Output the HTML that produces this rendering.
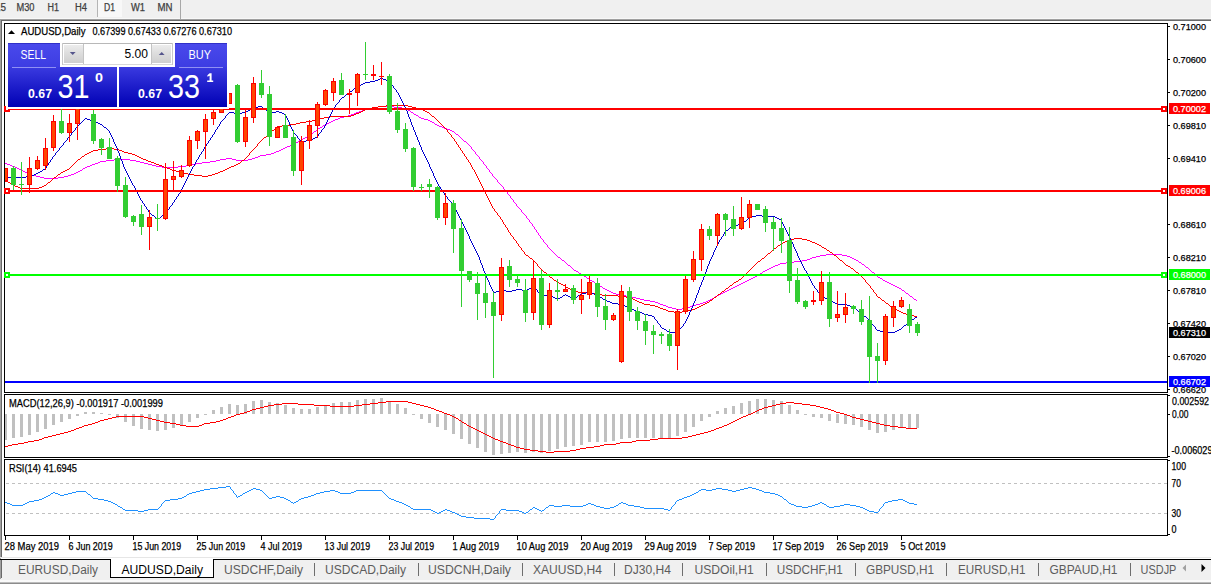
<!DOCTYPE html>
<html><head><meta charset="utf-8"><title>AUDUSD,Daily</title>
<style>html,body{margin:0;padding:0;background:#fff;overflow:hidden}body{width:1211px;height:584px;position:relative;font-family:"Liberation Sans",sans-serif}svg{position:absolute;left:0;top:0;display:block}text{font-family:"Liberation Sans",sans-serif}</style></head><body>
<svg width="1211" height="584" viewBox="0 0 1211 584" shape-rendering="crispEdges">
<defs><linearGradient id="gb" x1="0" y1="0" x2="0" y2="1"><stop offset="0" stop-color="#3a3ae0"/><stop offset="1" stop-color="#0000b4"/></linearGradient><linearGradient id="gt" x1="0" y1="0" x2="0" y2="1"><stop offset="0" stop-color="#4a4aec"/><stop offset="1" stop-color="#3c3ce2"/></linearGradient><linearGradient id="gbtn" x1="0" y1="0" x2="0" y2="1"><stop offset="0" stop-color="#ececec"/><stop offset="0.5" stop-color="#dcdcdc"/><stop offset="1" stop-color="#cfcfcf"/></linearGradient><clipPath id="cm"><rect x="5" y="24" width="1162" height="368"/></clipPath></defs>
<rect x="0" y="0" width="1211" height="584" fill="#fff"/>
<g id="toolbar">
<rect x="0" y="0" width="1211" height="18" fill="#f0f0f0"/>
<rect x="0" y="18" width="1211" height="1" fill="#f8f8f8"/>
<rect x="0" y="19" width="1211" height="1" fill="#a0a0a0"/>
<rect x="0" y="20" width="1211" height="1" fill="#696969"/>
<rect x="98" y="0" width="24" height="17" fill="#f8f8f8"/>
<rect x="97" y="0" width="1" height="17" fill="#b4b4b4"/>
<rect x="180" y="0" width="1" height="19" fill="#a8a8a8"/>
<text x="-5" y="11" font-size="10" fill="#404040" stroke="#404040" stroke-width="0.25" textLength="11" lengthAdjust="spacingAndGlyphs">15</text>
<text x="16.5" y="11" font-size="10" fill="#404040" stroke="#404040" stroke-width="0.25" textLength="18.0" lengthAdjust="spacingAndGlyphs">M30</text>
<text x="47.5" y="11" font-size="10" fill="#404040" stroke="#404040" stroke-width="0.25" textLength="11.5" lengthAdjust="spacingAndGlyphs">H1</text>
<text x="75" y="11" font-size="10" fill="#404040" stroke="#404040" stroke-width="0.25" textLength="12" lengthAdjust="spacingAndGlyphs">H4</text>
<text x="104" y="11" font-size="10" fill="#404040" stroke="#404040" stroke-width="0.25" textLength="11" lengthAdjust="spacingAndGlyphs">D1</text>
<text x="131" y="11" font-size="10" fill="#404040" stroke="#404040" stroke-width="0.25" textLength="14" lengthAdjust="spacingAndGlyphs">W1</text>
<text x="157.5" y="11" font-size="10" fill="#404040" stroke="#404040" stroke-width="0.25" textLength="15.0" lengthAdjust="spacingAndGlyphs">MN</text>
</g>
<rect x="0" y="19" width="1" height="540" fill="#a0a0a0"/>
<rect x="1" y="20" width="1" height="538" fill="#696969"/>
<rect x="4" y="23" width="1164" height="1" fill="#000"/>
<rect x="4" y="392" width="1164" height="1" fill="#000"/>
<rect x="4" y="23" width="1" height="370" fill="#000"/>
<rect x="1167" y="23" width="1" height="370" fill="#000"/>
<rect x="4" y="394" width="1164" height="1" fill="#000"/>
<rect x="4" y="457" width="1164" height="1" fill="#000"/>
<rect x="4" y="394" width="1" height="64" fill="#000"/>
<rect x="1167" y="394" width="1" height="64" fill="#000"/>
<rect x="4" y="459" width="1164" height="1" fill="#000"/>
<rect x="4" y="535" width="1164" height="1" fill="#000"/>
<rect x="4" y="459" width="1" height="77" fill="#000"/>
<rect x="1167" y="459" width="1" height="77" fill="#000"/>
<g id="main" clip-path="url(#cm)">
<path d="M378 106h16v1h-16zM372 107h6v1h-6zM394 107h8v1h-8zM368 108h4v1h-4zM402 108h4v1h-4zM364 109h4v1h-4zM406 109h2v1h-2zM362 110h2v1h-2zM408 110h2v1h-2zM359 111h3v1h-3zM410 111h1v1h-1zM356 112h3v1h-3zM411 112h2v1h-2zM354 113h2v1h-2zM413 113h1v1h-1zM351 114h3v1h-3zM414 114h2v1h-2zM348 115h3v1h-3zM416 115h2v1h-2zM344 116h4v1h-4zM418 116h1v1h-1zM340 117h4v1h-4zM419 117h2v1h-2zM338 118h2v1h-2zM421 118h3v1h-3zM335 119h3v1h-3zM424 119h4v1h-4zM333 120h2v1h-2zM428 120h2v1h-2zM331 121h2v1h-2zM430 121h2v1h-2zM329 122h2v1h-2zM432 122h2v1h-2zM327 123h2v1h-2zM434 123h1v1h-1zM325 124h2v1h-2zM435 124h2v1h-2zM323 125h2v1h-2zM437 125h2v1h-2zM322 126h1v1h-1zM439 126h3v1h-3zM320 127h2v1h-2zM442 127h2v1h-2zM318 128h2v1h-2zM444 128h3v1h-3zM317 129h1v1h-1zM447 129h3v1h-3zM316 130h1v1h-1zM450 130h2v1h-2zM314 131h2v1h-2zM452 131h2v1h-2zM313 132h1v1h-1zM454 132h1v1h-1zM312 133h1v1h-1zM455 133h1v1h-1zM310 134h2v1h-2zM456 134h2v1h-2zM309 135h1v1h-1zM458 135h1v1h-1zM307 136h2v1h-2zM459 136h1v1h-1zM305 137h2v1h-2zM460 137h1v1h-1zM303 138h2v1h-2zM461 138h1v1h-1zM301 139h2v1h-2zM462 139h1v1h-1zM299 140h2v1h-2zM463 140h1v1h-1zM298 141h1v1h-1zM464 141h2v1h-2zM296 142h2v1h-2zM466 142h1v1h-1zM294 143h2v1h-2zM467 143h1v1h-1zM292 144h2v1h-2zM468 144h1v1h-1zM290 145h2v1h-2zM469 145h1v1h-1zM287 146h3v1h-3zM470 146h1v1h-1zM285 147h2v1h-2zM471 147h1v1h-1zM283 148h2v1h-2zM471 148h1v1h-1zM281 149h2v1h-2zM472 149h1v1h-1zM279 150h2v1h-2zM473 150h1v1h-1zM276 151h3v1h-3zM474 151h1v1h-1zM274 152h2v1h-2zM475 152h1v1h-1zM271 153h3v1h-3zM475 153h1v1h-1zM266 154h5v1h-5zM476 154h1v1h-1zM260 155h6v1h-6zM477 155h1v1h-1zM258 156h2v1h-2zM478 156h1v1h-1zM255 157h3v1h-3zM479 157h1v1h-1zM226 158h6v1h-6zM252 158h3v1h-3zM479 158h1v1h-1zM114 159h16v1h-16zM220 159h6v1h-6zM232 159h4v1h-4zM248 159h4v1h-4zM480 159h1v1h-1zM106 160h8v1h-8zM130 160h6v1h-6zM216 160h4v1h-4zM236 160h12v1h-12zM481 160h1v1h-1zM100 161h6v1h-6zM136 161h4v1h-4zM210 161h6v1h-6zM482 161h1v1h-1zM98 162h2v1h-2zM140 162h4v1h-4zM202 162h8v1h-8zM483 162h1v1h-1zM5 163h2v1h-2zM95 163h3v1h-3zM144 163h4v1h-4zM196 163h6v1h-6zM483 163h1v1h-1zM7 164h3v1h-3zM92 164h3v1h-3zM148 164h4v1h-4zM192 164h4v1h-4zM484 164h1v1h-1zM10 165h2v1h-2zM90 165h2v1h-2zM152 165h4v1h-4zM186 165h6v1h-6zM485 165h1v1h-1zM12 166h3v1h-3zM87 166h3v1h-3zM156 166h6v1h-6zM178 166h8v1h-8zM486 166h1v1h-1zM15 167h2v1h-2zM85 167h2v1h-2zM162 167h16v1h-16zM486 167h1v1h-1zM17 168h2v1h-2zM83 168h2v1h-2zM487 168h1v1h-1zM19 169h2v1h-2zM82 169h1v1h-1zM488 169h1v1h-1zM21 170h2v1h-2zM80 170h2v1h-2zM489 170h1v1h-1zM23 171h2v1h-2zM78 171h2v1h-2zM489 171h1v1h-1zM25 172h2v1h-2zM76 172h2v1h-2zM490 172h1v1h-1zM27 173h2v1h-2zM74 173h2v1h-2zM491 173h1v1h-1zM29 174h3v1h-3zM71 174h3v1h-3zM492 174h1v1h-1zM32 175h4v1h-4zM68 175h3v1h-3zM492 175h1v1h-1zM36 176h4v1h-4zM64 176h4v1h-4zM493 176h1v1h-1zM40 177h4v1h-4zM58 177h6v1h-6zM494 177h1v1h-1zM44 178h14v1h-14zM495 178h1v1h-1zM496 179h1v1h-1zM497 180h1v1h-1zM497 181h1v1h-1zM498 182h1v1h-1zM499 183h1v1h-1zM500 184h1v1h-1zM501 185h1v1h-1zM502 186h1v1h-1zM503 187h1v1h-1zM503 188h1v1h-1zM504 189h1v1h-1zM505 190h1v1h-1zM506 191h1v1h-1zM507 192h1v1h-1zM507 193h1v1h-1zM508 194h1v1h-1zM509 195h1v1h-1zM510 196h1v1h-1zM510 197h1v1h-1zM511 198h1v1h-1zM512 199h1v1h-1zM513 200h1v1h-1zM513 201h1v1h-1zM514 202h1v1h-1zM515 203h1v1h-1zM516 204h1v1h-1zM516 205h1v1h-1zM517 206h1v1h-1zM518 207h1v1h-1zM519 208h1v1h-1zM520 209h1v1h-1zM521 210h1v1h-1zM521 211h1v1h-1zM522 212h1v1h-1zM523 213h1v1h-1zM524 214h1v1h-1zM525 215h1v1h-1zM526 216h1v1h-1zM526 217h1v1h-1zM527 218h1v1h-1zM528 219h1v1h-1zM529 220h1v1h-1zM529 221h1v1h-1zM530 222h1v1h-1zM531 223h1v1h-1zM532 224h1v1h-1zM532 225h1v1h-1zM533 226h1v1h-1zM534 227h1v1h-1zM534 228h1v1h-1zM535 229h1v1h-1zM536 230h1v1h-1zM536 231h1v1h-1zM537 232h1v1h-1zM538 233h1v1h-1zM538 234h1v1h-1zM539 235h1v1h-1zM540 236h1v1h-1zM540 237h1v1h-1zM541 238h1v1h-1zM542 239h1v1h-1zM543 240h1v1h-1zM543 241h1v1h-1zM544 242h1v1h-1zM545 243h1v1h-1zM546 244h1v1h-1zM547 245h1v1h-1zM547 246h1v1h-1zM548 247h1v1h-1zM549 248h1v1h-1zM550 249h1v1h-1zM551 250h1v1h-1zM552 251h1v1h-1zM553 252h1v1h-1zM554 253h1v1h-1zM555 254h1v1h-1zM826 254h16v1h-16zM556 255h1v1h-1zM820 255h6v1h-6zM842 255h5v1h-5zM557 256h1v1h-1zM816 256h4v1h-4zM847 256h3v1h-3zM558 257h2v1h-2zM812 257h4v1h-4zM850 257h2v1h-2zM560 258h1v1h-1zM810 258h2v1h-2zM852 258h2v1h-2zM561 259h1v1h-1zM807 259h3v1h-3zM854 259h2v1h-2zM562 260h2v1h-2zM802 260h5v1h-5zM856 260h2v1h-2zM564 261h1v1h-1zM794 261h8v1h-8zM858 261h1v1h-1zM565 262h1v1h-1zM786 262h8v1h-8zM859 262h2v1h-2zM566 263h1v1h-1zM780 263h6v1h-6zM861 263h1v1h-1zM567 264h1v1h-1zM778 264h2v1h-2zM862 264h2v1h-2zM568 265h2v1h-2zM775 265h3v1h-3zM864 265h1v1h-1zM570 266h1v1h-1zM773 266h2v1h-2zM865 266h1v1h-1zM571 267h1v1h-1zM771 267h2v1h-2zM866 267h2v1h-2zM572 268h1v1h-1zM769 268h2v1h-2zM868 268h1v1h-1zM573 269h1v1h-1zM767 269h2v1h-2zM869 269h1v1h-1zM574 270h2v1h-2zM765 270h2v1h-2zM870 270h1v1h-1zM576 271h2v1h-2zM763 271h2v1h-2zM871 271h1v1h-1zM578 272h1v1h-1zM762 272h1v1h-1zM872 272h2v1h-2zM579 273h2v1h-2zM760 273h2v1h-2zM874 273h1v1h-1zM581 274h1v1h-1zM758 274h2v1h-2zM875 274h1v1h-1zM582 275h2v1h-2zM757 275h1v1h-1zM876 275h1v1h-1zM584 276h2v1h-2zM755 276h2v1h-2zM877 276h1v1h-1zM586 277h1v1h-1zM753 277h2v1h-2zM878 277h2v1h-2zM587 278h2v1h-2zM751 278h2v1h-2zM880 278h2v1h-2zM589 279h1v1h-1zM749 279h2v1h-2zM882 279h1v1h-1zM590 280h2v1h-2zM747 280h2v1h-2zM883 280h2v1h-2zM592 281h2v1h-2zM745 281h2v1h-2zM885 281h2v1h-2zM594 282h1v1h-1zM743 282h2v1h-2zM887 282h2v1h-2zM595 283h2v1h-2zM741 283h2v1h-2zM889 283h2v1h-2zM597 284h1v1h-1zM739 284h2v1h-2zM891 284h2v1h-2zM598 285h2v1h-2zM737 285h2v1h-2zM893 285h2v1h-2zM600 286h2v1h-2zM735 286h2v1h-2zM895 286h2v1h-2zM602 287h1v1h-1zM733 287h2v1h-2zM897 287h2v1h-2zM603 288h2v1h-2zM731 288h2v1h-2zM899 288h2v1h-2zM605 289h2v1h-2zM729 289h2v1h-2zM901 289h1v1h-1zM607 290h2v1h-2zM727 290h2v1h-2zM902 290h2v1h-2zM609 291h2v1h-2zM725 291h2v1h-2zM904 291h1v1h-1zM611 292h2v1h-2zM723 292h2v1h-2zM905 292h1v1h-1zM613 293h3v1h-3zM721 293h2v1h-2zM906 293h2v1h-2zM616 294h4v1h-4zM719 294h2v1h-2zM908 294h1v1h-1zM620 295h6v1h-6zM717 295h2v1h-2zM909 295h1v1h-1zM626 296h6v1h-6zM715 296h2v1h-2zM910 296h2v1h-2zM632 297h4v1h-4zM714 297h1v1h-1zM912 297h1v1h-1zM636 298h4v1h-4zM712 298h2v1h-2zM913 298h1v1h-1zM640 299h4v1h-4zM710 299h2v1h-2zM914 299h2v1h-2zM644 300h6v1h-6zM708 300h2v1h-2zM916 300h1v1h-1zM650 301h5v1h-5zM706 301h2v1h-2zM655 302h3v1h-3zM703 302h3v1h-3zM658 303h2v1h-2zM700 303h3v1h-3zM660 304h3v1h-3zM696 304h4v1h-4zM663 305h3v1h-3zM692 305h4v1h-4zM666 306h2v1h-2zM690 306h2v1h-2zM668 307h4v1h-4zM687 307h3v1h-3zM672 308h4v1h-4zM682 308h5v1h-5zM676 309h6v1h-6z" fill="#ff00ff"/>
<path d="M386 105h22v1h-22zM378 106h8v1h-8zM408 106h4v1h-4zM372 107h6v1h-6zM412 107h4v1h-4zM368 108h4v1h-4zM416 108h4v1h-4zM365 109h3v1h-3zM420 109h3v1h-3zM363 110h2v1h-2zM423 110h2v1h-2zM361 111h2v1h-2zM425 111h2v1h-2zM359 112h2v1h-2zM427 112h2v1h-2zM356 113h3v1h-3zM429 113h1v1h-1zM354 114h2v1h-2zM430 114h1v1h-1zM351 115h3v1h-3zM431 115h1v1h-1zM330 116h21v1h-21zM432 116h2v1h-2zM324 117h6v1h-6zM434 117h1v1h-1zM320 118h4v1h-4zM435 118h1v1h-1zM316 119h4v1h-4zM436 119h1v1h-1zM312 120h4v1h-4zM437 120h1v1h-1zM306 121h6v1h-6zM438 121h1v1h-1zM300 122h6v1h-6zM439 122h1v1h-1zM296 123h4v1h-4zM440 123h1v1h-1zM290 124h6v1h-6zM441 124h1v1h-1zM282 125h8v1h-8zM442 125h1v1h-1zM277 126h5v1h-5zM443 126h1v1h-1zM276 127h1v1h-1zM444 127h1v1h-1zM275 128h1v1h-1zM445 128h1v1h-1zM274 129h1v1h-1zM446 129h1v1h-1zM272 130h2v1h-2zM447 130h1v1h-1zM271 131h1v1h-1zM447 131h1v1h-1zM270 132h1v1h-1zM448 132h1v1h-1zM269 133h1v1h-1zM449 133h1v1h-1zM268 134h1v1h-1zM450 134h1v1h-1zM267 135h1v1h-1zM451 135h1v1h-1zM266 136h1v1h-1zM451 136h1v1h-1zM264 137h2v1h-2zM452 137h1v1h-1zM263 138h1v1h-1zM453 138h1v1h-1zM262 139h1v1h-1zM454 139h1v1h-1zM261 140h1v1h-1zM454 140h1v1h-1zM260 141h1v1h-1zM455 141h1v1h-1zM259 142h1v1h-1zM456 142h1v1h-1zM258 143h1v1h-1zM456 143h1v1h-1zM257 144h1v1h-1zM457 144h1v1h-1zM257 145h1v1h-1zM458 145h1v1h-1zM256 146h1v1h-1zM458 146h1v1h-1zM255 147h1v1h-1zM459 147h1v1h-1zM106 148h8v1h-8zM254 148h1v1h-1zM460 148h1v1h-1zM98 149h8v1h-8zM114 149h5v1h-5zM253 149h1v1h-1zM460 149h1v1h-1zM93 150h5v1h-5zM119 150h3v1h-3zM252 150h1v1h-1zM461 150h1v1h-1zM91 151h2v1h-2zM122 151h2v1h-2zM251 151h1v1h-1zM462 151h1v1h-1zM89 152h2v1h-2zM124 152h4v1h-4zM250 152h1v1h-1zM462 152h1v1h-1zM87 153h2v1h-2zM128 153h4v1h-4zM249 153h1v1h-1zM463 153h1v1h-1zM85 154h2v1h-2zM132 154h3v1h-3zM249 154h1v1h-1zM464 154h1v1h-1zM84 155h1v1h-1zM135 155h2v1h-2zM248 155h1v1h-1zM464 155h1v1h-1zM82 156h2v1h-2zM137 156h2v1h-2zM247 156h1v1h-1zM465 156h1v1h-1zM81 157h1v1h-1zM139 157h2v1h-2zM246 157h1v1h-1zM466 157h1v1h-1zM80 158h1v1h-1zM141 158h2v1h-2zM245 158h1v1h-1zM466 158h1v1h-1zM78 159h2v1h-2zM143 159h3v1h-3zM244 159h1v1h-1zM467 159h1v1h-1zM77 160h1v1h-1zM146 160h2v1h-2zM242 160h2v1h-2zM468 160h1v1h-1zM76 161h1v1h-1zM148 161h3v1h-3zM241 161h1v1h-1zM468 161h1v1h-1zM75 162h1v1h-1zM151 162h3v1h-3zM240 162h1v1h-1zM469 162h1v1h-1zM74 163h1v1h-1zM154 163h2v1h-2zM238 163h2v1h-2zM470 163h1v1h-1zM73 164h1v1h-1zM156 164h3v1h-3zM236 164h2v1h-2zM470 164h1v1h-1zM72 165h1v1h-1zM159 165h3v1h-3zM234 165h2v1h-2zM471 165h1v1h-1zM71 166h1v1h-1zM162 166h2v1h-2zM231 166h3v1h-3zM471 166h1v1h-1zM70 167h1v1h-1zM164 167h3v1h-3zM229 167h2v1h-2zM472 167h1v1h-1zM69 168h1v1h-1zM167 168h3v1h-3zM227 168h2v1h-2zM472 168h1v1h-1zM67 169h2v1h-2zM170 169h2v1h-2zM225 169h2v1h-2zM473 169h1v1h-1zM65 170h2v1h-2zM172 170h4v1h-4zM223 170h2v1h-2zM474 170h1v1h-1zM63 171h2v1h-2zM176 171h4v1h-4zM220 171h3v1h-3zM474 171h1v1h-1zM61 172h2v1h-2zM180 172h4v1h-4zM218 172h2v1h-2zM475 172h1v1h-1zM60 173h1v1h-1zM184 173h4v1h-4zM215 173h3v1h-3zM475 173h1v1h-1zM58 174h2v1h-2zM188 174h6v1h-6zM212 174h3v1h-3zM476 174h1v1h-1zM57 175h1v1h-1zM194 175h8v1h-8zM208 175h4v1h-4zM476 175h1v1h-1zM56 176h1v1h-1zM202 176h6v1h-6zM477 176h1v1h-1zM54 177h2v1h-2zM477 177h1v1h-1zM53 178h1v1h-1zM478 178h1v1h-1zM52 179h1v1h-1zM478 179h1v1h-1zM5 180h1v1h-1zM51 180h1v1h-1zM479 180h1v1h-1zM6 181h2v1h-2zM50 181h1v1h-1zM479 181h1v1h-1zM8 182h2v1h-2zM48 182h2v1h-2zM480 182h1v1h-1zM10 183h1v1h-1zM47 183h1v1h-1zM480 183h1v1h-1zM11 184h2v1h-2zM46 184h1v1h-1zM481 184h1v1h-1zM13 185h2v1h-2zM44 185h2v1h-2zM481 185h1v1h-1zM15 186h3v1h-3zM42 186h2v1h-2zM482 186h1v1h-1zM18 187h2v1h-2zM39 187h3v1h-3zM482 187h1v1h-1zM20 188h19v1h-19zM483 188h1v1h-1zM483 189h1v1h-1zM484 190h1v1h-1zM484 191h1v1h-1zM485 192h1v1h-1zM485 193h1v1h-1zM486 194h1v1h-1zM486 195h1v1h-1zM487 196h1v1h-1zM487 197h1v1h-1zM488 198h1v1h-1zM488 199h1v1h-1zM489 200h1v1h-1zM489 201h1v1h-1zM490 202h1v1h-1zM490 203h1v1h-1zM491 204h1v1h-1zM491 205h1v1h-1zM492 206h1v1h-1zM492 207h1v1h-1zM493 208h1v1h-1zM494 209h1v1h-1zM494 210h1v1h-1zM495 211h1v1h-1zM496 212h1v1h-1zM497 213h1v1h-1zM497 214h1v1h-1zM498 215h1v1h-1zM499 216h1v1h-1zM500 217h1v1h-1zM500 218h1v1h-1zM501 219h1v1h-1zM502 220h1v1h-1zM502 221h1v1h-1zM503 222h1v1h-1zM503 223h1v1h-1zM504 224h1v1h-1zM505 225h1v1h-1zM505 226h1v1h-1zM506 227h1v1h-1zM507 228h1v1h-1zM507 229h1v1h-1zM508 230h1v1h-1zM508 231h1v1h-1zM509 232h1v1h-1zM510 233h1v1h-1zM510 234h1v1h-1zM511 235h1v1h-1zM512 236h1v1h-1zM513 237h1v1h-1zM513 238h1v1h-1zM794 238h8v1h-8zM514 239h1v1h-1zM789 239h5v1h-5zM802 239h5v1h-5zM515 240h1v1h-1zM787 240h2v1h-2zM807 240h3v1h-3zM516 241h1v1h-1zM785 241h2v1h-2zM810 241h2v1h-2zM516 242h1v1h-1zM783 242h2v1h-2zM812 242h3v1h-3zM517 243h1v1h-1zM781 243h2v1h-2zM815 243h2v1h-2zM518 244h1v1h-1zM780 244h1v1h-1zM817 244h2v1h-2zM518 245h1v1h-1zM778 245h2v1h-2zM819 245h2v1h-2zM519 246h1v1h-1zM777 246h1v1h-1zM821 246h1v1h-1zM520 247h1v1h-1zM776 247h1v1h-1zM822 247h2v1h-2zM521 248h1v1h-1zM774 248h2v1h-2zM824 248h2v1h-2zM521 249h1v1h-1zM773 249h1v1h-1zM826 249h1v1h-1zM522 250h1v1h-1zM772 250h1v1h-1zM827 250h2v1h-2zM523 251h1v1h-1zM771 251h1v1h-1zM829 251h1v1h-1zM524 252h1v1h-1zM770 252h1v1h-1zM830 252h2v1h-2zM524 253h1v1h-1zM768 253h2v1h-2zM832 253h1v1h-1zM525 254h1v1h-1zM767 254h1v1h-1zM833 254h1v1h-1zM526 255h2v1h-2zM766 255h1v1h-1zM834 255h2v1h-2zM528 256h1v1h-1zM765 256h1v1h-1zM836 256h1v1h-1zM529 257h1v1h-1zM764 257h1v1h-1zM837 257h1v1h-1zM530 258h2v1h-2zM762 258h2v1h-2zM838 258h1v1h-1zM532 259h1v1h-1zM761 259h1v1h-1zM839 259h1v1h-1zM533 260h1v1h-1zM760 260h1v1h-1zM840 260h2v1h-2zM534 261h1v1h-1zM758 261h2v1h-2zM842 261h1v1h-1zM535 262h1v1h-1zM757 262h1v1h-1zM843 262h1v1h-1zM536 263h1v1h-1zM756 263h1v1h-1zM844 263h1v1h-1zM537 264h1v1h-1zM755 264h1v1h-1zM845 264h1v1h-1zM537 265h1v1h-1zM754 265h1v1h-1zM846 265h2v1h-2zM538 266h1v1h-1zM753 266h1v1h-1zM848 266h2v1h-2zM539 267h1v1h-1zM752 267h1v1h-1zM850 267h1v1h-1zM540 268h1v1h-1zM751 268h1v1h-1zM851 268h2v1h-2zM541 269h1v1h-1zM750 269h1v1h-1zM853 269h1v1h-1zM542 270h1v1h-1zM749 270h1v1h-1zM854 270h1v1h-1zM543 271h1v1h-1zM748 271h1v1h-1zM855 271h1v1h-1zM544 272h2v1h-2zM747 272h1v1h-1zM856 272h2v1h-2zM546 273h1v1h-1zM746 273h1v1h-1zM858 273h1v1h-1zM547 274h1v1h-1zM745 274h1v1h-1zM859 274h1v1h-1zM548 275h1v1h-1zM744 275h1v1h-1zM860 275h1v1h-1zM549 276h1v1h-1zM743 276h1v1h-1zM861 276h1v1h-1zM550 277h2v1h-2zM742 277h1v1h-1zM862 277h1v1h-1zM552 278h1v1h-1zM741 278h1v1h-1zM863 278h1v1h-1zM553 279h1v1h-1zM739 279h2v1h-2zM864 279h1v1h-1zM554 280h2v1h-2zM738 280h1v1h-1zM865 280h1v1h-1zM556 281h1v1h-1zM736 281h2v1h-2zM865 281h1v1h-1zM557 282h2v1h-2zM734 282h2v1h-2zM866 282h1v1h-1zM559 283h2v1h-2zM733 283h1v1h-1zM867 283h1v1h-1zM561 284h2v1h-2zM732 284h1v1h-1zM868 284h1v1h-1zM563 285h2v1h-2zM730 285h2v1h-2zM869 285h1v1h-1zM565 286h1v1h-1zM729 286h1v1h-1zM870 286h1v1h-1zM566 287h2v1h-2zM728 287h1v1h-1zM870 287h1v1h-1zM568 288h2v1h-2zM726 288h2v1h-2zM871 288h1v1h-1zM570 289h1v1h-1zM725 289h1v1h-1zM872 289h1v1h-1zM571 290h2v1h-2zM724 290h1v1h-1zM873 290h1v1h-1zM573 291h5v1h-5zM722 291h2v1h-2zM873 291h1v1h-1zM578 292h14v1h-14zM721 292h1v1h-1zM874 292h1v1h-1zM592 293h4v1h-4zM720 293h1v1h-1zM875 293h1v1h-1zM596 294h6v1h-6zM718 294h2v1h-2zM876 294h1v1h-1zM602 295h16v1h-16zM717 295h1v1h-1zM876 295h1v1h-1zM618 296h8v1h-8zM716 296h1v1h-1zM877 296h1v1h-1zM626 297h5v1h-5zM714 297h2v1h-2zM878 297h2v1h-2zM631 298h2v1h-2zM713 298h1v1h-1zM880 298h1v1h-1zM633 299h2v1h-2zM712 299h1v1h-1zM881 299h1v1h-1zM635 300h2v1h-2zM710 300h2v1h-2zM882 300h2v1h-2zM637 301h2v1h-2zM709 301h1v1h-1zM884 301h1v1h-1zM639 302h3v1h-3zM707 302h2v1h-2zM885 302h1v1h-1zM642 303h2v1h-2zM705 303h2v1h-2zM886 303h2v1h-2zM644 304h6v1h-6zM703 304h2v1h-2zM888 304h1v1h-1zM650 305h5v1h-5zM701 305h2v1h-2zM889 305h1v1h-1zM655 306h3v1h-3zM699 306h2v1h-2zM890 306h2v1h-2zM658 307h2v1h-2zM697 307h2v1h-2zM892 307h1v1h-1zM660 308h3v1h-3zM695 308h2v1h-2zM893 308h2v1h-2zM663 309h3v1h-3zM692 309h3v1h-3zM895 309h2v1h-2zM666 310h2v1h-2zM688 310h4v1h-4zM897 310h2v1h-2zM668 311h6v1h-6zM682 311h6v1h-6zM899 311h2v1h-2zM674 312h8v1h-8zM901 312h2v1h-2zM903 313h3v1h-3zM906 314h2v1h-2zM908 315h6v1h-6zM914 316h3v1h-3z" fill="#ff0000"/>
<path d="M380 78h3v1h-3zM378 79h2v1h-2zM383 79h3v1h-3zM375 80h3v1h-3zM386 80h2v1h-2zM370 81h5v1h-5zM388 81h2v1h-2zM365 82h5v1h-5zM390 82h1v1h-1zM363 83h2v1h-2zM390 83h1v1h-1zM361 84h2v1h-2zM391 84h1v1h-1zM359 85h2v1h-2zM392 85h1v1h-1zM357 86h2v1h-2zM393 86h1v1h-1zM356 87h1v1h-1zM393 87h1v1h-1zM354 88h2v1h-2zM394 88h1v1h-1zM353 89h1v1h-1zM395 89h1v1h-1zM352 90h1v1h-1zM396 90h1v1h-1zM350 91h2v1h-2zM396 91h1v1h-1zM349 92h1v1h-1zM397 92h1v1h-1zM348 93h1v1h-1zM398 93h1v1h-1zM346 94h2v1h-2zM398 94h1v1h-1zM345 95h1v1h-1zM399 95h1v1h-1zM344 96h1v1h-1zM399 96h1v1h-1zM342 97h2v1h-2zM400 97h1v1h-1zM341 98h1v1h-1zM400 98h1v1h-1zM340 99h1v1h-1zM401 99h1v1h-1zM339 100h1v1h-1zM401 100h1v1h-1zM339 101h1v1h-1zM402 101h1v1h-1zM338 102h1v1h-1zM402 102h1v1h-1zM337 103h1v1h-1zM403 103h1v1h-1zM336 104h1v1h-1zM403 104h1v1h-1zM335 105h1v1h-1zM404 105h1v1h-1zM258 106h4v1h-4zM335 106h1v1h-1zM404 106h1v1h-1zM253 107h5v1h-5zM262 107h1v1h-1zM334 107h1v1h-1zM405 107h1v1h-1zM251 108h2v1h-2zM263 108h1v1h-1zM333 108h1v1h-1zM405 108h1v1h-1zM250 109h1v1h-1zM264 109h2v1h-2zM333 109h1v1h-1zM406 109h1v1h-1zM248 110h2v1h-2zM266 110h1v1h-1zM332 110h1v1h-1zM406 110h1v1h-1zM246 111h2v1h-2zM267 111h1v1h-1zM276 111h3v1h-3zM332 111h1v1h-1zM407 111h1v1h-1zM229 112h5v1h-5zM242 112h4v1h-4zM268 112h1v1h-1zM272 112h4v1h-4zM279 112h3v1h-3zM331 112h1v1h-1zM407 112h1v1h-1zM228 113h1v1h-1zM234 113h8v1h-8zM269 113h3v1h-3zM282 113h2v1h-2zM331 113h1v1h-1zM407 113h1v1h-1zM227 114h1v1h-1zM284 114h2v1h-2zM330 114h1v1h-1zM408 114h1v1h-1zM226 115h1v1h-1zM285 115h1v1h-1zM330 115h1v1h-1zM408 115h1v1h-1zM225 116h1v1h-1zM286 116h1v1h-1zM329 116h1v1h-1zM408 116h1v1h-1zM225 117h1v1h-1zM286 117h1v1h-1zM329 117h1v1h-1zM409 117h1v1h-1zM85 118h2v1h-2zM224 118h1v1h-1zM287 118h1v1h-1zM328 118h1v1h-1zM409 118h1v1h-1zM84 119h1v1h-1zM87 119h3v1h-3zM223 119h1v1h-1zM287 119h1v1h-1zM328 119h1v1h-1zM410 119h1v1h-1zM83 120h1v1h-1zM90 120h2v1h-2zM222 120h1v1h-1zM288 120h1v1h-1zM327 120h1v1h-1zM410 120h1v1h-1zM82 121h1v1h-1zM92 121h3v1h-3zM221 121h1v1h-1zM288 121h1v1h-1zM327 121h1v1h-1zM410 121h1v1h-1zM81 122h1v1h-1zM95 122h3v1h-3zM220 122h1v1h-1zM289 122h1v1h-1zM326 122h1v1h-1zM411 122h1v1h-1zM80 123h1v1h-1zM98 123h2v1h-2zM220 123h1v1h-1zM289 123h1v1h-1zM326 123h1v1h-1zM411 123h1v1h-1zM79 124h1v1h-1zM100 124h2v1h-2zM219 124h1v1h-1zM289 124h1v1h-1zM325 124h1v1h-1zM411 124h1v1h-1zM78 125h1v1h-1zM102 125h1v1h-1zM219 125h1v1h-1zM290 125h1v1h-1zM325 125h1v1h-1zM412 125h1v1h-1zM77 126h1v1h-1zM103 126h1v1h-1zM218 126h1v1h-1zM290 126h1v1h-1zM324 126h1v1h-1zM412 126h1v1h-1zM76 127h1v1h-1zM104 127h2v1h-2zM217 127h1v1h-1zM291 127h1v1h-1zM324 127h1v1h-1zM413 127h1v1h-1zM75 128h1v1h-1zM106 128h1v1h-1zM217 128h1v1h-1zM291 128h1v1h-1zM323 128h1v1h-1zM413 128h1v1h-1zM75 129h1v1h-1zM107 129h1v1h-1zM216 129h1v1h-1zM292 129h1v1h-1zM322 129h1v1h-1zM413 129h1v1h-1zM74 130h1v1h-1zM108 130h1v1h-1zM215 130h1v1h-1zM292 130h1v1h-1zM321 130h1v1h-1zM414 130h1v1h-1zM73 131h1v1h-1zM109 131h1v1h-1zM215 131h1v1h-1zM293 131h1v1h-1zM321 131h1v1h-1zM414 131h1v1h-1zM72 132h1v1h-1zM109 132h1v1h-1zM214 132h1v1h-1zM293 132h1v1h-1zM320 132h1v1h-1zM415 132h1v1h-1zM71 133h1v1h-1zM110 133h1v1h-1zM214 133h1v1h-1zM294 133h1v1h-1zM319 133h1v1h-1zM415 133h1v1h-1zM71 134h1v1h-1zM110 134h1v1h-1zM213 134h1v1h-1zM295 134h1v1h-1zM318 134h1v1h-1zM415 134h1v1h-1zM70 135h1v1h-1zM111 135h1v1h-1zM212 135h1v1h-1zM296 135h1v1h-1zM318 135h1v1h-1zM416 135h1v1h-1zM69 136h1v1h-1zM111 136h1v1h-1zM212 136h1v1h-1zM297 136h1v1h-1zM317 136h1v1h-1zM416 136h1v1h-1zM68 137h1v1h-1zM112 137h1v1h-1zM211 137h1v1h-1zM297 137h1v1h-1zM315 137h2v1h-2zM417 137h1v1h-1zM67 138h1v1h-1zM112 138h1v1h-1zM210 138h1v1h-1zM298 138h1v1h-1zM313 138h2v1h-2zM417 138h1v1h-1zM67 139h1v1h-1zM113 139h1v1h-1zM210 139h1v1h-1zM299 139h1v1h-1zM311 139h2v1h-2zM417 139h1v1h-1zM66 140h1v1h-1zM113 140h1v1h-1zM209 140h1v1h-1zM300 140h1v1h-1zM306 140h5v1h-5zM418 140h1v1h-1zM65 141h1v1h-1zM113 141h1v1h-1zM208 141h1v1h-1zM301 141h5v1h-5zM418 141h1v1h-1zM64 142h1v1h-1zM114 142h1v1h-1zM208 142h1v1h-1zM419 142h1v1h-1zM63 143h1v1h-1zM114 143h1v1h-1zM207 143h1v1h-1zM419 143h1v1h-1zM63 144h1v1h-1zM115 144h1v1h-1zM206 144h1v1h-1zM419 144h1v1h-1zM62 145h1v1h-1zM115 145h1v1h-1zM206 145h1v1h-1zM420 145h1v1h-1zM61 146h1v1h-1zM116 146h1v1h-1zM205 146h1v1h-1zM420 146h1v1h-1zM60 147h1v1h-1zM116 147h1v1h-1zM204 147h1v1h-1zM421 147h1v1h-1zM59 148h1v1h-1zM117 148h1v1h-1zM204 148h1v1h-1zM421 148h1v1h-1zM59 149h1v1h-1zM117 149h1v1h-1zM203 149h1v1h-1zM421 149h1v1h-1zM58 150h1v1h-1zM117 150h1v1h-1zM203 150h1v1h-1zM422 150h1v1h-1zM57 151h1v1h-1zM118 151h1v1h-1zM202 151h1v1h-1zM422 151h1v1h-1zM56 152h1v1h-1zM118 152h1v1h-1zM201 152h1v1h-1zM423 152h1v1h-1zM55 153h1v1h-1zM119 153h1v1h-1zM201 153h1v1h-1zM423 153h1v1h-1zM55 154h1v1h-1zM119 154h1v1h-1zM200 154h1v1h-1zM424 154h1v1h-1zM54 155h1v1h-1zM119 155h1v1h-1zM199 155h1v1h-1zM424 155h1v1h-1zM53 156h1v1h-1zM120 156h1v1h-1zM199 156h1v1h-1zM425 156h1v1h-1zM52 157h1v1h-1zM120 157h1v1h-1zM198 157h1v1h-1zM425 157h1v1h-1zM52 158h1v1h-1zM120 158h1v1h-1zM198 158h1v1h-1zM426 158h1v1h-1zM51 159h1v1h-1zM121 159h1v1h-1zM197 159h1v1h-1zM426 159h1v1h-1zM50 160h1v1h-1zM121 160h1v1h-1zM196 160h1v1h-1zM427 160h1v1h-1zM50 161h1v1h-1zM122 161h1v1h-1zM196 161h1v1h-1zM427 161h1v1h-1zM49 162h1v1h-1zM122 162h1v1h-1zM195 162h1v1h-1zM428 162h1v1h-1zM48 163h1v1h-1zM122 163h1v1h-1zM195 163h1v1h-1zM428 163h1v1h-1zM48 164h1v1h-1zM123 164h1v1h-1zM194 164h1v1h-1zM429 164h1v1h-1zM47 165h1v1h-1zM123 165h1v1h-1zM194 165h1v1h-1zM429 165h1v1h-1zM46 166h1v1h-1zM123 166h1v1h-1zM193 166h1v1h-1zM429 166h1v1h-1zM46 167h1v1h-1zM124 167h1v1h-1zM192 167h1v1h-1zM430 167h1v1h-1zM45 168h1v1h-1zM124 168h1v1h-1zM192 168h1v1h-1zM430 168h1v1h-1zM43 169h2v1h-2zM125 169h1v1h-1zM191 169h1v1h-1zM431 169h1v1h-1zM42 170h1v1h-1zM125 170h1v1h-1zM191 170h1v1h-1zM431 170h1v1h-1zM40 171h2v1h-2zM126 171h1v1h-1zM190 171h1v1h-1zM432 171h1v1h-1zM38 172h2v1h-2zM126 172h1v1h-1zM190 172h1v1h-1zM432 172h1v1h-1zM36 173h2v1h-2zM127 173h1v1h-1zM189 173h1v1h-1zM433 173h1v1h-1zM34 174h2v1h-2zM127 174h1v1h-1zM189 174h1v1h-1zM433 174h1v1h-1zM31 175h3v1h-3zM128 175h1v1h-1zM188 175h1v1h-1zM433 175h1v1h-1zM26 176h5v1h-5zM128 176h1v1h-1zM188 176h1v1h-1zM434 176h1v1h-1zM5 177h21v1h-21zM129 177h1v1h-1zM187 177h1v1h-1zM434 177h1v1h-1zM129 178h1v1h-1zM187 178h1v1h-1zM435 178h1v1h-1zM130 179h1v1h-1zM186 179h1v1h-1zM435 179h1v1h-1zM130 180h1v1h-1zM186 180h1v1h-1zM436 180h1v1h-1zM131 181h1v1h-1zM185 181h1v1h-1zM436 181h1v1h-1zM131 182h1v1h-1zM185 182h1v1h-1zM437 182h1v1h-1zM132 183h1v1h-1zM184 183h1v1h-1zM437 183h1v1h-1zM132 184h1v1h-1zM184 184h1v1h-1zM438 184h1v1h-1zM133 185h1v1h-1zM183 185h1v1h-1zM438 185h1v1h-1zM134 186h1v1h-1zM183 186h1v1h-1zM439 186h1v1h-1zM134 187h1v1h-1zM182 187h1v1h-1zM440 187h1v1h-1zM135 188h1v1h-1zM182 188h1v1h-1zM440 188h1v1h-1zM135 189h1v1h-1zM181 189h1v1h-1zM441 189h1v1h-1zM136 190h1v1h-1zM181 190h1v1h-1zM442 190h1v1h-1zM136 191h1v1h-1zM180 191h1v1h-1zM442 191h1v1h-1zM137 192h1v1h-1zM180 192h1v1h-1zM443 192h1v1h-1zM137 193h1v1h-1zM179 193h1v1h-1zM444 193h1v1h-1zM138 194h1v1h-1zM178 194h1v1h-1zM444 194h1v1h-1zM138 195h1v1h-1zM178 195h1v1h-1zM445 195h1v1h-1zM139 196h1v1h-1zM177 196h1v1h-1zM446 196h1v1h-1zM139 197h1v1h-1zM176 197h1v1h-1zM447 197h1v1h-1zM140 198h1v1h-1zM176 198h1v1h-1zM447 198h1v1h-1zM140 199h1v1h-1zM175 199h1v1h-1zM448 199h1v1h-1zM141 200h1v1h-1zM174 200h1v1h-1zM449 200h1v1h-1zM142 201h1v1h-1zM174 201h1v1h-1zM450 201h1v1h-1zM142 202h1v1h-1zM173 202h1v1h-1zM451 202h1v1h-1zM143 203h1v1h-1zM172 203h1v1h-1zM451 203h1v1h-1zM144 204h1v1h-1zM172 204h1v1h-1zM452 204h1v1h-1zM144 205h1v1h-1zM171 205h1v1h-1zM453 205h1v1h-1zM145 206h1v1h-1zM170 206h1v1h-1zM454 206h1v1h-1zM146 207h1v1h-1zM169 207h1v1h-1zM454 207h1v1h-1zM146 208h1v1h-1zM169 208h1v1h-1zM455 208h1v1h-1zM147 209h1v1h-1zM168 209h1v1h-1zM455 209h1v1h-1zM148 210h1v1h-1zM167 210h1v1h-1zM456 210h1v1h-1zM148 211h1v1h-1zM166 211h1v1h-1zM456 211h1v1h-1zM149 212h1v1h-1zM166 212h1v1h-1zM457 212h1v1h-1zM150 213h1v1h-1zM165 213h1v1h-1zM457 213h1v1h-1zM151 214h1v1h-1zM164 214h1v1h-1zM458 214h1v1h-1zM152 215h2v1h-2zM162 215h2v1h-2zM458 215h1v1h-1zM756 215h6v1h-6zM154 216h1v1h-1zM161 216h1v1h-1zM459 216h1v1h-1zM752 216h4v1h-4zM762 216h13v1h-13zM155 217h1v1h-1zM160 217h1v1h-1zM459 217h1v1h-1zM749 217h3v1h-3zM775 217h2v1h-2zM156 218h1v1h-1zM158 218h2v1h-2zM460 218h1v1h-1zM748 218h1v1h-1zM777 218h2v1h-2zM157 219h1v1h-1zM460 219h1v1h-1zM747 219h1v1h-1zM779 219h2v1h-2zM461 220h1v1h-1zM746 220h1v1h-1zM781 220h1v1h-1zM461 221h1v1h-1zM744 221h2v1h-2zM781 221h1v1h-1zM462 222h1v1h-1zM743 222h1v1h-1zM782 222h1v1h-1zM462 223h1v1h-1zM742 223h1v1h-1zM782 223h1v1h-1zM463 224h1v1h-1zM738 224h4v1h-4zM783 224h1v1h-1zM463 225h1v1h-1zM733 225h5v1h-5zM783 225h1v1h-1zM464 226h1v1h-1zM732 226h1v1h-1zM784 226h1v1h-1zM464 227h1v1h-1zM730 227h2v1h-2zM784 227h1v1h-1zM465 228h1v1h-1zM729 228h1v1h-1zM785 228h1v1h-1zM465 229h1v1h-1zM728 229h1v1h-1zM785 229h1v1h-1zM466 230h1v1h-1zM726 230h2v1h-2zM786 230h1v1h-1zM466 231h1v1h-1zM725 231h1v1h-1zM786 231h1v1h-1zM467 232h1v1h-1zM724 232h1v1h-1zM787 232h1v1h-1zM467 233h1v1h-1zM724 233h1v1h-1zM787 233h1v1h-1zM468 234h1v1h-1zM723 234h1v1h-1zM788 234h1v1h-1zM468 235h1v1h-1zM723 235h1v1h-1zM788 235h1v1h-1zM469 236h1v1h-1zM722 236h1v1h-1zM789 236h1v1h-1zM469 237h1v1h-1zM721 237h1v1h-1zM789 237h1v1h-1zM469 238h1v1h-1zM721 238h1v1h-1zM790 238h1v1h-1zM470 239h1v1h-1zM720 239h1v1h-1zM790 239h1v1h-1zM470 240h1v1h-1zM719 240h1v1h-1zM791 240h1v1h-1zM471 241h1v1h-1zM719 241h1v1h-1zM791 241h1v1h-1zM471 242h1v1h-1zM718 242h1v1h-1zM792 242h1v1h-1zM472 243h1v1h-1zM718 243h1v1h-1zM792 243h1v1h-1zM472 244h1v1h-1zM717 244h1v1h-1zM793 244h1v1h-1zM473 245h1v1h-1zM717 245h1v1h-1zM793 245h1v1h-1zM473 246h1v1h-1zM716 246h1v1h-1zM793 246h1v1h-1zM474 247h1v1h-1zM716 247h1v1h-1zM794 247h1v1h-1zM474 248h1v1h-1zM715 248h1v1h-1zM794 248h1v1h-1zM475 249h1v1h-1zM715 249h1v1h-1zM795 249h1v1h-1zM475 250h1v1h-1zM714 250h1v1h-1zM795 250h1v1h-1zM476 251h1v1h-1zM714 251h1v1h-1zM796 251h1v1h-1zM476 252h1v1h-1zM713 252h1v1h-1zM796 252h1v1h-1zM477 253h1v1h-1zM713 253h1v1h-1zM797 253h1v1h-1zM477 254h1v1h-1zM713 254h1v1h-1zM797 254h1v1h-1zM478 255h1v1h-1zM712 255h1v1h-1zM797 255h1v1h-1zM478 256h1v1h-1zM712 256h1v1h-1zM798 256h1v1h-1zM479 257h1v1h-1zM711 257h1v1h-1zM798 257h1v1h-1zM479 258h1v1h-1zM711 258h1v1h-1zM799 258h1v1h-1zM479 259h1v1h-1zM710 259h1v1h-1zM799 259h1v1h-1zM480 260h1v1h-1zM710 260h1v1h-1zM800 260h1v1h-1zM480 261h1v1h-1zM709 261h1v1h-1zM800 261h1v1h-1zM480 262h1v1h-1zM709 262h1v1h-1zM801 262h1v1h-1zM481 263h1v1h-1zM709 263h1v1h-1zM801 263h1v1h-1zM481 264h1v1h-1zM708 264h1v1h-1zM802 264h1v1h-1zM482 265h1v1h-1zM708 265h1v1h-1zM802 265h1v1h-1zM482 266h1v1h-1zM707 266h1v1h-1zM803 266h1v1h-1zM482 267h1v1h-1zM707 267h1v1h-1zM803 267h1v1h-1zM483 268h1v1h-1zM707 268h1v1h-1zM804 268h1v1h-1zM483 269h1v1h-1zM706 269h1v1h-1zM804 269h1v1h-1zM483 270h1v1h-1zM706 270h1v1h-1zM805 270h1v1h-1zM484 271h1v1h-1zM706 271h1v1h-1zM806 271h1v1h-1zM484 272h1v1h-1zM705 272h1v1h-1zM806 272h1v1h-1zM485 273h1v1h-1zM705 273h1v1h-1zM807 273h1v1h-1zM485 274h1v1h-1zM704 274h1v1h-1zM807 274h1v1h-1zM485 275h1v1h-1zM704 275h1v1h-1zM808 275h1v1h-1zM486 276h1v1h-1zM704 276h1v1h-1zM808 276h1v1h-1zM486 277h1v1h-1zM703 277h1v1h-1zM809 277h1v1h-1zM487 278h1v1h-1zM703 278h1v1h-1zM809 278h1v1h-1zM487 279h1v1h-1zM703 279h1v1h-1zM810 279h1v1h-1zM488 280h1v1h-1zM702 280h1v1h-1zM810 280h1v1h-1zM488 281h1v1h-1zM702 281h1v1h-1zM811 281h1v1h-1zM489 282h1v1h-1zM701 282h1v1h-1zM811 282h1v1h-1zM489 283h1v1h-1zM701 283h1v1h-1zM812 283h1v1h-1zM489 284h1v1h-1zM701 284h1v1h-1zM812 284h1v1h-1zM490 285h1v1h-1zM700 285h1v1h-1zM813 285h1v1h-1zM490 286h1v1h-1zM533 286h1v1h-1zM700 286h1v1h-1zM814 286h1v1h-1zM491 287h1v1h-1zM531 287h2v1h-2zM534 287h1v1h-1zM699 287h1v1h-1zM814 287h1v1h-1zM491 288h1v1h-1zM529 288h2v1h-2zM535 288h1v1h-1zM699 288h1v1h-1zM815 288h1v1h-1zM492 289h1v1h-1zM516 289h6v1h-6zM527 289h2v1h-2zM536 289h1v1h-1zM699 289h1v1h-1zM816 289h1v1h-1zM492 290h1v1h-1zM500 290h6v1h-6zM512 290h4v1h-4zM522 290h5v1h-5zM537 290h1v1h-1zM698 290h1v1h-1zM817 290h1v1h-1zM493 291h1v1h-1zM496 291h4v1h-4zM506 291h6v1h-6zM537 291h1v1h-1zM698 291h1v1h-1zM817 291h1v1h-1zM493 292h3v1h-3zM538 292h1v1h-1zM586 292h5v1h-5zM698 292h1v1h-1zM818 292h1v1h-1zM539 293h1v1h-1zM581 293h5v1h-5zM591 293h3v1h-3zM697 293h1v1h-1zM819 293h1v1h-1zM540 294h1v1h-1zM565 294h1v1h-1zM580 294h1v1h-1zM594 294h2v1h-2zM697 294h1v1h-1zM820 294h1v1h-1zM541 295h10v1h-10zM563 295h2v1h-2zM566 295h2v1h-2zM578 295h2v1h-2zM596 295h2v1h-2zM696 295h1v1h-1zM820 295h1v1h-1zM551 296h2v1h-2zM562 296h1v1h-1zM568 296h2v1h-2zM577 296h1v1h-1zM598 296h2v1h-2zM696 296h1v1h-1zM821 296h2v1h-2zM553 297h2v1h-2zM560 297h2v1h-2zM570 297h1v1h-1zM576 297h1v1h-1zM600 297h2v1h-2zM696 297h1v1h-1zM823 297h2v1h-2zM555 298h2v1h-2zM558 298h2v1h-2zM571 298h2v1h-2zM574 298h2v1h-2zM602 298h1v1h-1zM695 298h1v1h-1zM825 298h2v1h-2zM557 299h1v1h-1zM573 299h1v1h-1zM603 299h2v1h-2zM695 299h1v1h-1zM827 299h2v1h-2zM605 300h2v1h-2zM695 300h1v1h-1zM829 300h2v1h-2zM607 301h3v1h-3zM694 301h1v1h-1zM831 301h2v1h-2zM610 302h2v1h-2zM694 302h1v1h-1zM833 302h2v1h-2zM612 303h6v1h-6zM693 303h1v1h-1zM835 303h2v1h-2zM618 304h5v1h-5zM693 304h1v1h-1zM837 304h10v1h-10zM623 305h2v1h-2zM693 305h1v1h-1zM847 305h3v1h-3zM625 306h2v1h-2zM692 306h1v1h-1zM850 306h2v1h-2zM627 307h2v1h-2zM692 307h1v1h-1zM852 307h2v1h-2zM629 308h2v1h-2zM691 308h1v1h-1zM854 308h2v1h-2zM631 309h3v1h-3zM691 309h1v1h-1zM856 309h1v1h-1zM634 310h2v1h-2zM690 310h1v1h-1zM857 310h1v1h-1zM636 311h3v1h-3zM690 311h1v1h-1zM858 311h2v1h-2zM639 312h3v1h-3zM689 312h1v1h-1zM860 312h1v1h-1zM642 313h2v1h-2zM689 313h1v1h-1zM861 313h1v1h-1zM644 314h4v1h-4zM689 314h1v1h-1zM862 314h1v1h-1zM648 315h4v1h-4zM688 315h1v1h-1zM863 315h1v1h-1zM652 316h2v1h-2zM688 316h1v1h-1zM864 316h2v1h-2zM654 317h1v1h-1zM687 317h1v1h-1zM866 317h1v1h-1zM915 317h2v1h-2zM654 318h1v1h-1zM687 318h1v1h-1zM867 318h1v1h-1zM914 318h1v1h-1zM655 319h1v1h-1zM686 319h1v1h-1zM868 319h1v1h-1zM912 319h2v1h-2zM656 320h1v1h-1zM686 320h1v1h-1zM869 320h1v1h-1zM910 320h2v1h-2zM657 321h1v1h-1zM685 321h1v1h-1zM870 321h1v1h-1zM909 321h1v1h-1zM657 322h1v1h-1zM685 322h1v1h-1zM871 322h1v1h-1zM908 322h1v1h-1zM658 323h1v1h-1zM684 323h1v1h-1zM871 323h1v1h-1zM907 323h1v1h-1zM659 324h1v1h-1zM683 324h1v1h-1zM872 324h1v1h-1zM906 324h1v1h-1zM660 325h1v1h-1zM683 325h1v1h-1zM873 325h1v1h-1zM904 325h2v1h-2zM660 326h1v1h-1zM682 326h1v1h-1zM874 326h1v1h-1zM903 326h1v1h-1zM661 327h1v1h-1zM681 327h1v1h-1zM875 327h1v1h-1zM902 327h1v1h-1zM662 328h2v1h-2zM680 328h1v1h-1zM875 328h1v1h-1zM901 328h1v1h-1zM664 329h2v1h-2zM679 329h1v1h-1zM876 329h1v1h-1zM899 329h2v1h-2zM666 330h1v1h-1zM679 330h1v1h-1zM877 330h3v1h-3zM897 330h2v1h-2zM667 331h2v1h-2zM678 331h1v1h-1zM880 331h4v1h-4zM895 331h2v1h-2zM669 332h9v1h-9zM884 332h11v1h-11z" fill="#0000cd"/>
<rect x="5" y="108" width="1162" height="2" fill="#ff0000"/>
<rect x="5" y="190" width="1162" height="2" fill="#ff0000"/>
<rect x="5" y="274" width="1162" height="2" fill="#00ff00"/>
<rect x="5" y="381" width="1162" height="2" fill="#0000ff"/>
<rect x="5" y="168" width="1" height="14" fill="#ff0000"/>
<rect x="3" y="168" width="5" height="13" fill="#ff0000"/>
<rect x="4" y="169" width="3" height="11" fill="#ff4500"/>
<rect x="13" y="166" width="1" height="24" fill="#32cd32"/>
<rect x="11" y="168" width="5" height="17" fill="#32cd32"/>
<rect x="21" y="162" width="1" height="33" fill="#32cd32"/>
<rect x="19" y="184" width="5" height="1" fill="#32cd32"/>
<rect x="29" y="157" width="1" height="36" fill="#ff0000"/>
<rect x="27" y="168" width="5" height="17" fill="#ff0000"/>
<rect x="28" y="169" width="3" height="15" fill="#ff4500"/>
<rect x="37" y="156" width="1" height="14" fill="#ff0000"/>
<rect x="35" y="160" width="5" height="9" fill="#ff0000"/>
<rect x="36" y="161" width="3" height="7" fill="#ff4500"/>
<rect x="45" y="138" width="1" height="32" fill="#ff0000"/>
<rect x="43" y="148" width="5" height="18" fill="#ff0000"/>
<rect x="44" y="149" width="3" height="16" fill="#ff4500"/>
<rect x="53" y="115" width="1" height="36" fill="#ff0000"/>
<rect x="51" y="121" width="5" height="27" fill="#ff0000"/>
<rect x="52" y="122" width="3" height="25" fill="#ff4500"/>
<rect x="61" y="100" width="1" height="34" fill="#32cd32"/>
<rect x="59" y="121" width="5" height="12" fill="#32cd32"/>
<rect x="69" y="114" width="1" height="28" fill="#ff0000"/>
<rect x="67" y="123" width="5" height="10" fill="#ff0000"/>
<rect x="68" y="124" width="3" height="8" fill="#ff4500"/>
<rect x="77" y="98" width="1" height="42" fill="#ff0000"/>
<rect x="75" y="104" width="5" height="20" fill="#ff0000"/>
<rect x="76" y="105" width="3" height="18" fill="#ff4500"/>
<rect x="85" y="92" width="1" height="12" fill="#ff0000"/>
<rect x="83" y="96" width="5" height="8" fill="#ff0000"/>
<rect x="84" y="97" width="3" height="6" fill="#ff4500"/>
<rect x="93" y="110" width="1" height="34" fill="#32cd32"/>
<rect x="91" y="114" width="5" height="27" fill="#32cd32"/>
<rect x="101" y="138" width="1" height="17" fill="#32cd32"/>
<rect x="99" y="139" width="5" height="9" fill="#32cd32"/>
<rect x="109" y="138" width="1" height="21" fill="#32cd32"/>
<rect x="107" y="147" width="5" height="12" fill="#32cd32"/>
<rect x="117" y="156" width="1" height="36" fill="#32cd32"/>
<rect x="115" y="158" width="5" height="28" fill="#32cd32"/>
<rect x="125" y="177" width="1" height="41" fill="#32cd32"/>
<rect x="123" y="185" width="5" height="32" fill="#32cd32"/>
<rect x="133" y="215" width="1" height="11" fill="#32cd32"/>
<rect x="131" y="216" width="5" height="6" fill="#32cd32"/>
<rect x="141" y="205" width="1" height="30" fill="#32cd32"/>
<rect x="139" y="214" width="5" height="13" fill="#32cd32"/>
<rect x="149" y="210" width="1" height="40" fill="#ff0000"/>
<rect x="147" y="217" width="5" height="10" fill="#ff0000"/>
<rect x="148" y="218" width="3" height="8" fill="#ff4500"/>
<rect x="157" y="204" width="1" height="27" fill="#32cd32"/>
<rect x="155" y="218" width="5" height="1" fill="#32cd32"/>
<rect x="165" y="163" width="1" height="57" fill="#ff0000"/>
<rect x="163" y="179" width="5" height="40" fill="#ff0000"/>
<rect x="164" y="180" width="3" height="38" fill="#ff4500"/>
<rect x="173" y="161" width="1" height="30" fill="#ff0000"/>
<rect x="171" y="176" width="5" height="4" fill="#ff0000"/>
<rect x="172" y="177" width="3" height="2" fill="#ff4500"/>
<rect x="181" y="165" width="1" height="13" fill="#ff0000"/>
<rect x="179" y="170" width="5" height="7" fill="#ff0000"/>
<rect x="180" y="171" width="3" height="5" fill="#ff4500"/>
<rect x="189" y="136" width="1" height="31" fill="#ff0000"/>
<rect x="187" y="140" width="5" height="26" fill="#ff0000"/>
<rect x="188" y="141" width="3" height="24" fill="#ff4500"/>
<rect x="197" y="130" width="1" height="19" fill="#ff0000"/>
<rect x="195" y="131" width="5" height="10" fill="#ff0000"/>
<rect x="196" y="132" width="3" height="8" fill="#ff4500"/>
<rect x="205" y="114" width="1" height="45" fill="#ff0000"/>
<rect x="203" y="119" width="5" height="13" fill="#ff0000"/>
<rect x="204" y="120" width="3" height="11" fill="#ff4500"/>
<rect x="213" y="109" width="1" height="16" fill="#ff0000"/>
<rect x="211" y="112" width="5" height="7" fill="#ff0000"/>
<rect x="212" y="113" width="3" height="5" fill="#ff4500"/>
<rect x="221" y="100" width="1" height="13" fill="#ff0000"/>
<rect x="219" y="103" width="5" height="10" fill="#ff0000"/>
<rect x="220" y="104" width="3" height="8" fill="#ff4500"/>
<rect x="229" y="93" width="1" height="11" fill="#ff0000"/>
<rect x="227" y="93" width="5" height="11" fill="#ff0000"/>
<rect x="228" y="94" width="3" height="9" fill="#ff4500"/>
<rect x="237" y="84" width="1" height="59" fill="#32cd32"/>
<rect x="235" y="85" width="5" height="57" fill="#32cd32"/>
<rect x="245" y="109" width="1" height="38" fill="#ff0000"/>
<rect x="243" y="117" width="5" height="25" fill="#ff0000"/>
<rect x="244" y="118" width="3" height="23" fill="#ff4500"/>
<rect x="253" y="77" width="1" height="46" fill="#ff0000"/>
<rect x="251" y="83" width="5" height="35" fill="#ff0000"/>
<rect x="252" y="84" width="3" height="33" fill="#ff4500"/>
<rect x="261" y="70" width="1" height="28" fill="#32cd32"/>
<rect x="259" y="83" width="5" height="12" fill="#32cd32"/>
<rect x="269" y="86" width="1" height="60" fill="#32cd32"/>
<rect x="267" y="94" width="5" height="43" fill="#32cd32"/>
<rect x="277" y="126" width="1" height="12" fill="#ff0000"/>
<rect x="275" y="127" width="5" height="11" fill="#ff0000"/>
<rect x="276" y="128" width="3" height="9" fill="#ff4500"/>
<rect x="285" y="114" width="1" height="24" fill="#32cd32"/>
<rect x="283" y="125" width="5" height="13" fill="#32cd32"/>
<rect x="293" y="130" width="1" height="46" fill="#32cd32"/>
<rect x="291" y="137" width="5" height="34" fill="#32cd32"/>
<rect x="301" y="136" width="1" height="49" fill="#ff0000"/>
<rect x="299" y="141" width="5" height="30" fill="#ff0000"/>
<rect x="300" y="142" width="3" height="28" fill="#ff4500"/>
<rect x="309" y="120" width="1" height="29" fill="#ff0000"/>
<rect x="307" y="125" width="5" height="16" fill="#ff0000"/>
<rect x="308" y="126" width="3" height="14" fill="#ff4500"/>
<rect x="317" y="102" width="1" height="36" fill="#ff0000"/>
<rect x="315" y="104" width="5" height="22" fill="#ff0000"/>
<rect x="316" y="105" width="3" height="20" fill="#ff4500"/>
<rect x="325" y="89" width="1" height="17" fill="#ff0000"/>
<rect x="323" y="90" width="5" height="15" fill="#ff0000"/>
<rect x="324" y="91" width="3" height="13" fill="#ff4500"/>
<rect x="333" y="78" width="1" height="23" fill="#ff0000"/>
<rect x="331" y="81" width="5" height="12" fill="#ff0000"/>
<rect x="332" y="82" width="3" height="10" fill="#ff4500"/>
<rect x="341" y="73" width="1" height="22" fill="#32cd32"/>
<rect x="339" y="80" width="5" height="15" fill="#32cd32"/>
<rect x="349" y="89" width="1" height="25" fill="#ff0000"/>
<rect x="347" y="93" width="5" height="2" fill="#ff0000"/>
<rect x="357" y="73" width="1" height="33" fill="#ff0000"/>
<rect x="355" y="74" width="5" height="19" fill="#ff0000"/>
<rect x="356" y="75" width="3" height="17" fill="#ff4500"/>
<rect x="365" y="42" width="1" height="38" fill="#32cd32"/>
<rect x="363" y="74" width="5" height="1" fill="#32cd32"/>
<rect x="373" y="65" width="1" height="15" fill="#ff0000"/>
<rect x="371" y="74" width="5" height="2" fill="#ff0000"/>
<rect x="381" y="62" width="1" height="23" fill="#ff0000"/>
<rect x="379" y="76" width="5" height="1" fill="#ff0000"/>
<rect x="389" y="74" width="1" height="40" fill="#32cd32"/>
<rect x="387" y="76" width="5" height="36" fill="#32cd32"/>
<rect x="397" y="103" width="1" height="30" fill="#32cd32"/>
<rect x="395" y="111" width="5" height="19" fill="#32cd32"/>
<rect x="405" y="123" width="1" height="29" fill="#32cd32"/>
<rect x="403" y="129" width="5" height="20" fill="#32cd32"/>
<rect x="413" y="147" width="1" height="44" fill="#32cd32"/>
<rect x="411" y="148" width="5" height="39" fill="#32cd32"/>
<rect x="421" y="184" width="1" height="7" fill="#32cd32"/>
<rect x="419" y="187" width="5" height="1" fill="#32cd32"/>
<rect x="429" y="179" width="1" height="19" fill="#32cd32"/>
<rect x="427" y="184" width="5" height="3" fill="#32cd32"/>
<rect x="437" y="186" width="1" height="34" fill="#32cd32"/>
<rect x="435" y="187" width="5" height="31" fill="#32cd32"/>
<rect x="445" y="193" width="1" height="32" fill="#ff0000"/>
<rect x="443" y="203" width="5" height="15" fill="#ff0000"/>
<rect x="444" y="204" width="3" height="13" fill="#ff4500"/>
<rect x="453" y="200" width="1" height="53" fill="#32cd32"/>
<rect x="451" y="203" width="5" height="26" fill="#32cd32"/>
<rect x="461" y="219" width="1" height="88" fill="#32cd32"/>
<rect x="459" y="228" width="5" height="43" fill="#32cd32"/>
<rect x="469" y="271" width="1" height="11" fill="#32cd32"/>
<rect x="467" y="271" width="5" height="9" fill="#32cd32"/>
<rect x="477" y="272" width="1" height="48" fill="#32cd32"/>
<rect x="475" y="283" width="5" height="11" fill="#32cd32"/>
<rect x="485" y="275" width="1" height="43" fill="#32cd32"/>
<rect x="483" y="293" width="5" height="10" fill="#32cd32"/>
<rect x="493" y="292" width="1" height="86" fill="#32cd32"/>
<rect x="491" y="302" width="5" height="14" fill="#32cd32"/>
<rect x="501" y="258" width="1" height="63" fill="#ff0000"/>
<rect x="499" y="267" width="5" height="48" fill="#ff0000"/>
<rect x="500" y="268" width="3" height="46" fill="#ff4500"/>
<rect x="509" y="260" width="1" height="27" fill="#32cd32"/>
<rect x="507" y="266" width="5" height="14" fill="#32cd32"/>
<rect x="517" y="275" width="1" height="12" fill="#32cd32"/>
<rect x="515" y="279" width="5" height="4" fill="#32cd32"/>
<rect x="525" y="279" width="1" height="43" fill="#32cd32"/>
<rect x="523" y="290" width="5" height="23" fill="#32cd32"/>
<rect x="533" y="260" width="1" height="60" fill="#ff0000"/>
<rect x="531" y="278" width="5" height="35" fill="#ff0000"/>
<rect x="532" y="279" width="3" height="33" fill="#ff4500"/>
<rect x="541" y="270" width="1" height="60" fill="#32cd32"/>
<rect x="539" y="278" width="5" height="47" fill="#32cd32"/>
<rect x="549" y="283" width="1" height="45" fill="#ff0000"/>
<rect x="547" y="290" width="5" height="35" fill="#ff0000"/>
<rect x="548" y="291" width="3" height="33" fill="#ff4500"/>
<rect x="557" y="279" width="1" height="22" fill="#32cd32"/>
<rect x="555" y="290" width="5" height="2" fill="#32cd32"/>
<rect x="565" y="284" width="1" height="8" fill="#ff0000"/>
<rect x="563" y="289" width="5" height="3" fill="#ff0000"/>
<rect x="564" y="290" width="3" height="1" fill="#ff4500"/>
<rect x="573" y="285" width="1" height="19" fill="#32cd32"/>
<rect x="571" y="288" width="5" height="12" fill="#32cd32"/>
<rect x="581" y="279" width="1" height="35" fill="#ff0000"/>
<rect x="579" y="295" width="5" height="5" fill="#ff0000"/>
<rect x="580" y="296" width="3" height="3" fill="#ff4500"/>
<rect x="589" y="276" width="1" height="23" fill="#ff0000"/>
<rect x="587" y="282" width="5" height="13" fill="#ff0000"/>
<rect x="588" y="283" width="3" height="11" fill="#ff4500"/>
<rect x="597" y="278" width="1" height="39" fill="#32cd32"/>
<rect x="595" y="283" width="5" height="24" fill="#32cd32"/>
<rect x="605" y="294" width="1" height="36" fill="#32cd32"/>
<rect x="603" y="306" width="5" height="14" fill="#32cd32"/>
<rect x="613" y="313" width="1" height="8" fill="#ff0000"/>
<rect x="611" y="315" width="5" height="5" fill="#ff0000"/>
<rect x="612" y="316" width="3" height="3" fill="#ff4500"/>
<rect x="621" y="285" width="1" height="78" fill="#ff0000"/>
<rect x="619" y="291" width="5" height="71" fill="#ff0000"/>
<rect x="620" y="292" width="3" height="69" fill="#ff4500"/>
<rect x="629" y="287" width="1" height="34" fill="#32cd32"/>
<rect x="627" y="291" width="5" height="21" fill="#32cd32"/>
<rect x="637" y="307" width="1" height="23" fill="#32cd32"/>
<rect x="635" y="311" width="5" height="10" fill="#32cd32"/>
<rect x="645" y="314" width="1" height="31" fill="#32cd32"/>
<rect x="643" y="321" width="5" height="10" fill="#32cd32"/>
<rect x="653" y="325" width="1" height="29" fill="#32cd32"/>
<rect x="651" y="331" width="5" height="4" fill="#32cd32"/>
<rect x="661" y="332" width="1" height="12" fill="#32cd32"/>
<rect x="659" y="334" width="5" height="2" fill="#32cd32"/>
<rect x="669" y="329" width="1" height="22" fill="#32cd32"/>
<rect x="667" y="334" width="5" height="12" fill="#32cd32"/>
<rect x="677" y="309" width="1" height="61" fill="#ff0000"/>
<rect x="675" y="311" width="5" height="35" fill="#ff0000"/>
<rect x="676" y="312" width="3" height="33" fill="#ff4500"/>
<rect x="685" y="276" width="1" height="38" fill="#ff0000"/>
<rect x="683" y="279" width="5" height="33" fill="#ff0000"/>
<rect x="684" y="280" width="3" height="31" fill="#ff4500"/>
<rect x="693" y="251" width="1" height="31" fill="#ff0000"/>
<rect x="691" y="259" width="5" height="21" fill="#ff0000"/>
<rect x="692" y="260" width="3" height="19" fill="#ff4500"/>
<rect x="701" y="224" width="1" height="47" fill="#ff0000"/>
<rect x="699" y="229" width="5" height="31" fill="#ff0000"/>
<rect x="700" y="230" width="3" height="29" fill="#ff4500"/>
<rect x="709" y="226" width="1" height="14" fill="#32cd32"/>
<rect x="707" y="229" width="5" height="7" fill="#32cd32"/>
<rect x="717" y="213" width="1" height="33" fill="#ff0000"/>
<rect x="715" y="214" width="5" height="22" fill="#ff0000"/>
<rect x="716" y="215" width="3" height="20" fill="#ff4500"/>
<rect x="725" y="213" width="1" height="23" fill="#32cd32"/>
<rect x="723" y="214" width="5" height="6" fill="#32cd32"/>
<rect x="733" y="206" width="1" height="30" fill="#32cd32"/>
<rect x="731" y="219" width="5" height="10" fill="#32cd32"/>
<rect x="741" y="197" width="1" height="33" fill="#ff0000"/>
<rect x="739" y="217" width="5" height="12" fill="#ff0000"/>
<rect x="740" y="218" width="3" height="10" fill="#ff4500"/>
<rect x="749" y="200" width="1" height="28" fill="#ff0000"/>
<rect x="747" y="204" width="5" height="14" fill="#ff0000"/>
<rect x="748" y="205" width="3" height="12" fill="#ff4500"/>
<rect x="757" y="204" width="1" height="6" fill="#32cd32"/>
<rect x="755" y="204" width="5" height="6" fill="#32cd32"/>
<rect x="765" y="206" width="1" height="26" fill="#32cd32"/>
<rect x="763" y="209" width="5" height="14" fill="#32cd32"/>
<rect x="773" y="217" width="1" height="34" fill="#32cd32"/>
<rect x="771" y="222" width="5" height="7" fill="#32cd32"/>
<rect x="781" y="218" width="1" height="35" fill="#32cd32"/>
<rect x="779" y="228" width="5" height="13" fill="#32cd32"/>
<rect x="789" y="227" width="1" height="66" fill="#32cd32"/>
<rect x="787" y="240" width="5" height="41" fill="#32cd32"/>
<rect x="797" y="268" width="1" height="36" fill="#32cd32"/>
<rect x="795" y="280" width="5" height="22" fill="#32cd32"/>
<rect x="805" y="300" width="1" height="9" fill="#32cd32"/>
<rect x="803" y="301" width="5" height="6" fill="#32cd32"/>
<rect x="813" y="291" width="1" height="14" fill="#ff0000"/>
<rect x="811" y="300" width="5" height="2" fill="#ff0000"/>
<rect x="821" y="271" width="1" height="34" fill="#ff0000"/>
<rect x="819" y="282" width="5" height="19" fill="#ff0000"/>
<rect x="820" y="283" width="3" height="17" fill="#ff4500"/>
<rect x="829" y="272" width="1" height="55" fill="#32cd32"/>
<rect x="827" y="282" width="5" height="37" fill="#32cd32"/>
<rect x="837" y="291" width="1" height="31" fill="#ff0000"/>
<rect x="835" y="314" width="5" height="4" fill="#ff0000"/>
<rect x="836" y="315" width="3" height="2" fill="#ff4500"/>
<rect x="845" y="293" width="1" height="30" fill="#ff0000"/>
<rect x="843" y="307" width="5" height="8" fill="#ff0000"/>
<rect x="844" y="308" width="3" height="6" fill="#ff4500"/>
<rect x="853" y="305" width="1" height="9" fill="#32cd32"/>
<rect x="851" y="306" width="5" height="3" fill="#32cd32"/>
<rect x="861" y="300" width="1" height="25" fill="#32cd32"/>
<rect x="859" y="309" width="5" height="13" fill="#32cd32"/>
<rect x="869" y="296" width="1" height="87" fill="#32cd32"/>
<rect x="867" y="320" width="5" height="37" fill="#32cd32"/>
<rect x="877" y="343" width="1" height="40" fill="#32cd32"/>
<rect x="875" y="356" width="5" height="5" fill="#32cd32"/>
<rect x="885" y="314" width="1" height="51" fill="#ff0000"/>
<rect x="883" y="316" width="5" height="45" fill="#ff0000"/>
<rect x="884" y="317" width="3" height="43" fill="#ff4500"/>
<rect x="893" y="301" width="1" height="26" fill="#ff0000"/>
<rect x="891" y="306" width="5" height="12" fill="#ff0000"/>
<rect x="892" y="307" width="3" height="10" fill="#ff4500"/>
<rect x="901" y="297" width="1" height="11" fill="#ff0000"/>
<rect x="899" y="300" width="5" height="7" fill="#ff0000"/>
<rect x="900" y="301" width="3" height="5" fill="#ff4500"/>
<rect x="909" y="304" width="1" height="29" fill="#32cd32"/>
<rect x="907" y="309" width="5" height="17" fill="#32cd32"/>
<rect x="917" y="322" width="1" height="14" fill="#32cd32"/>
<rect x="915" y="324" width="5" height="9" fill="#32cd32"/>
</g>
<rect x="4" y="106" width="6" height="6" fill="#ff0000"/>
<rect x="6" y="108" width="2" height="2" fill="#fff"/>
<rect x="1161" y="106" width="6" height="6" fill="#ff0000"/>
<rect x="1163" y="108" width="2" height="2" fill="#fff"/>
<rect x="4" y="188" width="6" height="6" fill="#ff0000"/>
<rect x="6" y="190" width="2" height="2" fill="#fff"/>
<rect x="1161" y="188" width="6" height="6" fill="#ff0000"/>
<rect x="1163" y="190" width="2" height="2" fill="#fff"/>
<rect x="4" y="272" width="6" height="6" fill="#00ff00"/>
<rect x="6" y="274" width="2" height="2" fill="#fff"/>
<rect x="1161" y="272" width="6" height="6" fill="#00ff00"/>
<rect x="1163" y="274" width="2" height="2" fill="#fff"/>
<g id="paxis">
<rect x="1168" y="26" width="2" height="1" fill="#000"/>
<text x="1173" y="30" font-size="9.8" fill="#000" stroke="#000" stroke-width="0.25" textLength="33" lengthAdjust="spacingAndGlyphs">0.71000</text>
<rect x="1168" y="59" width="2" height="1" fill="#000"/>
<text x="1173" y="63" font-size="9.8" fill="#000" stroke="#000" stroke-width="0.25" textLength="33" lengthAdjust="spacingAndGlyphs">0.70600</text>
<rect x="1168" y="92" width="2" height="1" fill="#000"/>
<text x="1173" y="96" font-size="9.8" fill="#000" stroke="#000" stroke-width="0.25" textLength="33" lengthAdjust="spacingAndGlyphs">0.70200</text>
<rect x="1168" y="125" width="2" height="1" fill="#000"/>
<text x="1173" y="129" font-size="9.8" fill="#000" stroke="#000" stroke-width="0.25" textLength="33" lengthAdjust="spacingAndGlyphs">0.69810</text>
<rect x="1168" y="158" width="2" height="1" fill="#000"/>
<text x="1173" y="162" font-size="9.8" fill="#000" stroke="#000" stroke-width="0.25" textLength="33" lengthAdjust="spacingAndGlyphs">0.69410</text>
<rect x="1168" y="224" width="2" height="1" fill="#000"/>
<text x="1173" y="228" font-size="9.8" fill="#000" stroke="#000" stroke-width="0.25" textLength="33" lengthAdjust="spacingAndGlyphs">0.68610</text>
<rect x="1168" y="257" width="2" height="1" fill="#000"/>
<text x="1173" y="261" font-size="9.8" fill="#000" stroke="#000" stroke-width="0.25" textLength="33" lengthAdjust="spacingAndGlyphs">0.68210</text>
<rect x="1168" y="290" width="2" height="1" fill="#000"/>
<text x="1173" y="294" font-size="9.8" fill="#000" stroke="#000" stroke-width="0.25" textLength="33" lengthAdjust="spacingAndGlyphs">0.67810</text>
<rect x="1168" y="323" width="2" height="1" fill="#000"/>
<text x="1173" y="327" font-size="9.8" fill="#000" stroke="#000" stroke-width="0.25" textLength="33" lengthAdjust="spacingAndGlyphs">0.67420</text>
<rect x="1168" y="356" width="2" height="1" fill="#000"/>
<text x="1173" y="360" font-size="9.8" fill="#000" stroke="#000" stroke-width="0.25" textLength="33" lengthAdjust="spacingAndGlyphs">0.67020</text>
<rect x="1168" y="389" width="2" height="1" fill="#000"/>
<text x="1173" y="393" font-size="9.8" fill="#000" stroke="#000" stroke-width="0.25" textLength="33" lengthAdjust="spacingAndGlyphs">0.66620</text>
<rect x="1169" y="103" width="41" height="11" fill="#ff0000"/>
<text x="1173" y="112" font-size="9.8" fill="#fff" stroke="#fff" stroke-width="0.25" textLength="33" lengthAdjust="spacingAndGlyphs">0.70002</text>
<rect x="1169" y="185" width="41" height="11" fill="#ff0000"/>
<text x="1173" y="194" font-size="9.8" fill="#fff" stroke="#fff" stroke-width="0.25" textLength="33" lengthAdjust="spacingAndGlyphs">0.69006</text>
<rect x="1169" y="269" width="41" height="11" fill="#00ff00"/>
<text x="1173" y="278" font-size="9.8" fill="#fff" stroke="#fff" stroke-width="0.25" textLength="33" lengthAdjust="spacingAndGlyphs">0.68000</text>
<rect x="1169" y="327" width="41" height="11" fill="#000"/>
<text x="1173" y="336" font-size="9.8" fill="#fff" stroke="#fff" stroke-width="0.25" textLength="33" lengthAdjust="spacingAndGlyphs">0.67310</text>
<rect x="1169" y="376" width="41" height="11" fill="#0000ff"/>
<text x="1173" y="385" font-size="9.8" fill="#fff" stroke="#fff" stroke-width="0.25" textLength="33" lengthAdjust="spacingAndGlyphs">0.66702</text>
</g>
<g id="title">
<path d="M8 34 L15 34 L11.5 30.2 Z" fill="#000" shape-rendering="auto"/>
<text x="21" y="35" font-size="10.3" fill="#000" stroke="#000" stroke-width="0.25" textLength="64.5" lengthAdjust="spacingAndGlyphs">AUDUSD,Daily</text>
<text x="92.5" y="35" font-size="10.3" fill="#000" stroke="#000" stroke-width="0.25" textLength="139.5" lengthAdjust="spacingAndGlyphs">0.67399 0.67433 0.67276 0.67310</text>
</g>
<g id="trade">
<rect x="6" y="41" width="223" height="68" fill="#fff"/>
<rect x="8" y="43" width="52" height="25" fill="url(#gt)"/>
<rect x="175" y="43" width="52" height="25" fill="url(#gt)"/>
<rect x="8" y="43" width="52" height="1" fill="#3030c8"/>
<rect x="175" y="43" width="52" height="1" fill="#3030c8"/>
<rect x="8" y="67" width="109" height="40" fill="url(#gb)"/>
<rect x="119" y="67" width="108" height="40" fill="url(#gb)"/>
<rect x="12" y="67" width="44" height="1" fill="#9090f4"/>
<rect x="179" y="67" width="44" height="1" fill="#9090f4"/>
<rect x="62" y="43" width="111" height="22" fill="#fff"/>
<rect x="62" y="43" width="111" height="1" fill="#b8b8b8"/>
<rect x="62" y="64" width="111" height="1" fill="#d8d8d8"/>
<rect x="62" y="43" width="1" height="22" fill="#c8c8c8"/>
<rect x="172" y="43" width="1" height="22" fill="#c8c8c8"/>
<rect x="64" y="45" width="19" height="18" fill="url(#gbtn)"/>
<rect x="152" y="45" width="19" height="18" fill="url(#gbtn)"/>
<rect x="83" y="44" width="1" height="20" fill="#c4c4c4"/>
<rect x="151" y="44" width="1" height="20" fill="#c4c4c4"/>
<path d="M69.8 52 L75.6 52 L72.7 55 Z" fill="#55558c" shape-rendering="auto"/>
<path d="M158.8 55 L164.6 55 L161.7 52 Z" fill="#55558c" shape-rendering="auto"/>
<text x="148" y="58" font-size="12.5" fill="#000" text-anchor="end" textLength="23.5" lengthAdjust="spacingAndGlyphs">5.00</text>
<text x="20.5" y="59" font-size="12.5" fill="#fff" textLength="25.5" lengthAdjust="spacingAndGlyphs">SELL</text>
<text x="188.5" y="59" font-size="12.5" fill="#fff" textLength="22.5" lengthAdjust="spacingAndGlyphs">BUY</text>
<text x="28" y="98" font-size="12" fill="#fff" textLength="24" lengthAdjust="spacingAndGlyphs" font-weight="bold">0.67</text>
<text x="57.5" y="98.3" font-size="33" fill="#fff" textLength="32" lengthAdjust="spacingAndGlyphs">31</text>
<text x="95" y="82" font-size="12" fill="#fff" textLength="8" lengthAdjust="spacingAndGlyphs" font-weight="bold">0</text>
<text x="138" y="98" font-size="12" fill="#fff" textLength="24" lengthAdjust="spacingAndGlyphs" font-weight="bold">0.67</text>
<text x="168" y="98.3" font-size="33" fill="#fff" textLength="32" lengthAdjust="spacingAndGlyphs">33</text>
<path d="M209.6 73.2 h2 v7.2 h1.6 v1.5 h-6 v-1.5 h2.4 v-4.6 l-2.2 0.9 v-1.5 z" fill="#fff" shape-rendering="auto"/>
</g>
<g id="macd">
<rect x="5" y="414" width="2" height="26" fill="#c0c0c0"/>
<rect x="12" y="414" width="3" height="24" fill="#c0c0c0"/>
<rect x="20" y="414" width="3" height="23" fill="#c0c0c0"/>
<rect x="28" y="414" width="3" height="21" fill="#c0c0c0"/>
<rect x="36" y="414" width="3" height="18" fill="#c0c0c0"/>
<rect x="44" y="414" width="3" height="15" fill="#c0c0c0"/>
<rect x="52" y="414" width="3" height="11" fill="#c0c0c0"/>
<rect x="60" y="414" width="3" height="8" fill="#c0c0c0"/>
<rect x="68" y="414" width="3" height="5" fill="#c0c0c0"/>
<rect x="76" y="414" width="3" height="2" fill="#c0c0c0"/>
<rect x="84" y="412" width="3" height="2" fill="#c0c0c0"/>
<rect x="92" y="412" width="3" height="2" fill="#c0c0c0"/>
<rect x="100" y="413" width="3" height="1" fill="#c0c0c0"/>
<rect x="108" y="414" width="3" height="1" fill="#c0c0c0"/>
<rect x="116" y="414" width="3" height="4" fill="#c0c0c0"/>
<rect x="124" y="414" width="3" height="8" fill="#c0c0c0"/>
<rect x="132" y="414" width="3" height="12" fill="#c0c0c0"/>
<rect x="140" y="414" width="3" height="15" fill="#c0c0c0"/>
<rect x="148" y="414" width="3" height="16" fill="#c0c0c0"/>
<rect x="156" y="414" width="3" height="17" fill="#c0c0c0"/>
<rect x="164" y="414" width="3" height="16" fill="#c0c0c0"/>
<rect x="172" y="414" width="3" height="14" fill="#c0c0c0"/>
<rect x="180" y="414" width="3" height="11" fill="#c0c0c0"/>
<rect x="188" y="414" width="3" height="8" fill="#c0c0c0"/>
<rect x="196" y="414" width="3" height="4" fill="#c0c0c0"/>
<rect x="204" y="414" width="3" height="1" fill="#c0c0c0"/>
<rect x="212" y="410" width="3" height="4" fill="#c0c0c0"/>
<rect x="220" y="407" width="3" height="7" fill="#c0c0c0"/>
<rect x="228" y="404" width="3" height="10" fill="#c0c0c0"/>
<rect x="236" y="405" width="3" height="9" fill="#c0c0c0"/>
<rect x="244" y="404" width="3" height="10" fill="#c0c0c0"/>
<rect x="252" y="401" width="3" height="13" fill="#c0c0c0"/>
<rect x="260" y="400" width="3" height="14" fill="#c0c0c0"/>
<rect x="268" y="402" width="3" height="12" fill="#c0c0c0"/>
<rect x="276" y="403" width="3" height="11" fill="#c0c0c0"/>
<rect x="284" y="405" width="3" height="9" fill="#c0c0c0"/>
<rect x="292" y="408" width="3" height="6" fill="#c0c0c0"/>
<rect x="300" y="409" width="3" height="5" fill="#c0c0c0"/>
<rect x="308" y="409" width="3" height="5" fill="#c0c0c0"/>
<rect x="316" y="407" width="3" height="7" fill="#c0c0c0"/>
<rect x="324" y="406" width="3" height="8" fill="#c0c0c0"/>
<rect x="332" y="403" width="3" height="11" fill="#c0c0c0"/>
<rect x="340" y="402" width="3" height="12" fill="#c0c0c0"/>
<rect x="348" y="402" width="3" height="12" fill="#c0c0c0"/>
<rect x="356" y="400" width="3" height="14" fill="#c0c0c0"/>
<rect x="364" y="399" width="3" height="15" fill="#c0c0c0"/>
<rect x="372" y="399" width="3" height="15" fill="#c0c0c0"/>
<rect x="380" y="398" width="3" height="16" fill="#c0c0c0"/>
<rect x="388" y="402" width="3" height="12" fill="#c0c0c0"/>
<rect x="396" y="404" width="3" height="10" fill="#c0c0c0"/>
<rect x="404" y="408" width="3" height="6" fill="#c0c0c0"/>
<rect x="412" y="414" width="3" height="1" fill="#c0c0c0"/>
<rect x="420" y="414" width="3" height="5" fill="#c0c0c0"/>
<rect x="428" y="414" width="3" height="9" fill="#c0c0c0"/>
<rect x="436" y="414" width="3" height="13" fill="#c0c0c0"/>
<rect x="444" y="414" width="3" height="16" fill="#c0c0c0"/>
<rect x="452" y="414" width="3" height="20" fill="#c0c0c0"/>
<rect x="460" y="414" width="3" height="25" fill="#c0c0c0"/>
<rect x="468" y="414" width="3" height="30" fill="#c0c0c0"/>
<rect x="476" y="414" width="3" height="34" fill="#c0c0c0"/>
<rect x="484" y="414" width="3" height="38" fill="#c0c0c0"/>
<rect x="492" y="414" width="3" height="41" fill="#c0c0c0"/>
<rect x="500" y="414" width="3" height="40" fill="#c0c0c0"/>
<rect x="508" y="414" width="3" height="39" fill="#c0c0c0"/>
<rect x="516" y="414" width="3" height="38" fill="#c0c0c0"/>
<rect x="524" y="414" width="3" height="39" fill="#c0c0c0"/>
<rect x="532" y="414" width="3" height="38" fill="#c0c0c0"/>
<rect x="540" y="414" width="3" height="39" fill="#c0c0c0"/>
<rect x="548" y="414" width="3" height="37" fill="#c0c0c0"/>
<rect x="556" y="414" width="3" height="35" fill="#c0c0c0"/>
<rect x="564" y="414" width="3" height="33" fill="#c0c0c0"/>
<rect x="572" y="414" width="3" height="32" fill="#c0c0c0"/>
<rect x="580" y="414" width="3" height="31" fill="#c0c0c0"/>
<rect x="588" y="414" width="3" height="28" fill="#c0c0c0"/>
<rect x="596" y="414" width="3" height="28" fill="#c0c0c0"/>
<rect x="604" y="414" width="3" height="28" fill="#c0c0c0"/>
<rect x="612" y="414" width="3" height="27" fill="#c0c0c0"/>
<rect x="620" y="414" width="3" height="25" fill="#c0c0c0"/>
<rect x="628" y="414" width="3" height="24" fill="#c0c0c0"/>
<rect x="636" y="414" width="3" height="24" fill="#c0c0c0"/>
<rect x="644" y="414" width="3" height="24" fill="#c0c0c0"/>
<rect x="652" y="414" width="3" height="24" fill="#c0c0c0"/>
<rect x="660" y="414" width="3" height="24" fill="#c0c0c0"/>
<rect x="668" y="414" width="3" height="24" fill="#c0c0c0"/>
<rect x="676" y="414" width="3" height="22" fill="#c0c0c0"/>
<rect x="684" y="414" width="3" height="18" fill="#c0c0c0"/>
<rect x="692" y="414" width="3" height="13" fill="#c0c0c0"/>
<rect x="700" y="414" width="3" height="7" fill="#c0c0c0"/>
<rect x="708" y="414" width="3" height="3" fill="#c0c0c0"/>
<rect x="716" y="411" width="3" height="3" fill="#c0c0c0"/>
<rect x="724" y="408" width="3" height="6" fill="#c0c0c0"/>
<rect x="732" y="406" width="3" height="8" fill="#c0c0c0"/>
<rect x="740" y="403" width="3" height="11" fill="#c0c0c0"/>
<rect x="748" y="401" width="3" height="13" fill="#c0c0c0"/>
<rect x="756" y="399" width="3" height="15" fill="#c0c0c0"/>
<rect x="764" y="399" width="3" height="15" fill="#c0c0c0"/>
<rect x="772" y="400" width="3" height="14" fill="#c0c0c0"/>
<rect x="780" y="401" width="3" height="13" fill="#c0c0c0"/>
<rect x="788" y="405" width="3" height="9" fill="#c0c0c0"/>
<rect x="796" y="410" width="3" height="4" fill="#c0c0c0"/>
<rect x="804" y="414" width="3" height="1" fill="#c0c0c0"/>
<rect x="812" y="414" width="3" height="3" fill="#c0c0c0"/>
<rect x="820" y="414" width="3" height="4" fill="#c0c0c0"/>
<rect x="828" y="414" width="3" height="7" fill="#c0c0c0"/>
<rect x="836" y="414" width="3" height="9" fill="#c0c0c0"/>
<rect x="844" y="414" width="3" height="10" fill="#c0c0c0"/>
<rect x="852" y="414" width="3" height="11" fill="#c0c0c0"/>
<rect x="860" y="414" width="3" height="13" fill="#c0c0c0"/>
<rect x="868" y="414" width="3" height="16" fill="#c0c0c0"/>
<rect x="876" y="414" width="3" height="19" fill="#c0c0c0"/>
<rect x="884" y="414" width="3" height="18" fill="#c0c0c0"/>
<rect x="892" y="414" width="3" height="16" fill="#c0c0c0"/>
<rect x="900" y="414" width="3" height="14" fill="#c0c0c0"/>
<rect x="908" y="414" width="3" height="14" fill="#c0c0c0"/>
<rect x="916" y="414" width="3" height="14" fill="#c0c0c0"/>
<path d="M386 401h22v1h-22zM378 402h8v1h-8zM408 402h4v1h-4zM786 402h8v1h-8zM282 403h16v1h-16zM370 403h8v1h-8zM412 403h4v1h-4zM780 403h6v1h-6zM794 403h8v1h-8zM274 404h8v1h-8zM298 404h16v1h-16zM362 404h8v1h-8zM416 404h4v1h-4zM776 404h4v1h-4zM802 404h8v1h-8zM268 405h6v1h-6zM314 405h16v1h-16zM354 405h8v1h-8zM420 405h4v1h-4zM772 405h4v1h-4zM810 405h6v1h-6zM264 406h4v1h-4zM330 406h24v1h-24zM424 406h4v1h-4zM768 406h4v1h-4zM816 406h4v1h-4zM260 407h4v1h-4zM428 407h3v1h-3zM764 407h4v1h-4zM820 407h4v1h-4zM256 408h4v1h-4zM431 408h3v1h-3zM762 408h2v1h-2zM824 408h4v1h-4zM252 409h4v1h-4zM434 409h2v1h-2zM759 409h3v1h-3zM828 409h3v1h-3zM250 410h2v1h-2zM436 410h3v1h-3zM757 410h2v1h-2zM831 410h3v1h-3zM247 411h3v1h-3zM439 411h3v1h-3zM755 411h2v1h-2zM834 411h2v1h-2zM244 412h3v1h-3zM442 412h2v1h-2zM753 412h2v1h-2zM836 412h4v1h-4zM240 413h4v1h-4zM444 413h3v1h-3zM751 413h2v1h-2zM840 413h4v1h-4zM236 414h4v1h-4zM447 414h3v1h-3zM748 414h3v1h-3zM844 414h3v1h-3zM234 415h2v1h-2zM450 415h2v1h-2zM746 415h2v1h-2zM847 415h3v1h-3zM116 416h28v1h-28zM231 416h3v1h-3zM452 416h2v1h-2zM743 416h3v1h-3zM850 416h2v1h-2zM112 417h4v1h-4zM144 417h4v1h-4zM228 417h3v1h-3zM454 417h2v1h-2zM741 417h2v1h-2zM852 417h4v1h-4zM108 418h4v1h-4zM148 418h4v1h-4zM226 418h2v1h-2zM456 418h2v1h-2zM739 418h2v1h-2zM856 418h4v1h-4zM104 419h4v1h-4zM152 419h4v1h-4zM223 419h3v1h-3zM458 419h1v1h-1zM737 419h2v1h-2zM860 419h4v1h-4zM100 420h4v1h-4zM156 420h4v1h-4zM220 420h3v1h-3zM459 420h2v1h-2zM735 420h2v1h-2zM864 420h4v1h-4zM98 421h2v1h-2zM160 421h4v1h-4zM216 421h4v1h-4zM461 421h1v1h-1zM733 421h2v1h-2zM868 421h4v1h-4zM95 422h3v1h-3zM164 422h6v1h-6zM210 422h6v1h-6zM462 422h2v1h-2zM731 422h2v1h-2zM872 422h4v1h-4zM92 423h3v1h-3zM170 423h6v1h-6zM204 423h6v1h-6zM464 423h2v1h-2zM729 423h2v1h-2zM876 423h4v1h-4zM88 424h4v1h-4zM176 424h4v1h-4zM202 424h2v1h-2zM466 424h1v1h-1zM727 424h2v1h-2zM880 424h4v1h-4zM84 425h4v1h-4zM180 425h6v1h-6zM199 425h3v1h-3zM467 425h2v1h-2zM724 425h3v1h-3zM884 425h6v1h-6zM82 426h2v1h-2zM186 426h13v1h-13zM469 426h2v1h-2zM722 426h2v1h-2zM890 426h8v1h-8zM79 427h3v1h-3zM471 427h2v1h-2zM719 427h3v1h-3zM898 427h8v1h-8zM76 428h3v1h-3zM473 428h2v1h-2zM716 428h3v1h-3zM906 428h11v1h-11zM74 429h2v1h-2zM475 429h2v1h-2zM714 429h2v1h-2zM71 430h3v1h-3zM477 430h2v1h-2zM711 430h3v1h-3zM68 431h3v1h-3zM479 431h2v1h-2zM708 431h3v1h-3zM64 432h4v1h-4zM481 432h2v1h-2zM704 432h4v1h-4zM60 433h4v1h-4zM483 433h2v1h-2zM700 433h4v1h-4zM56 434h4v1h-4zM485 434h2v1h-2zM696 434h4v1h-4zM52 435h4v1h-4zM487 435h2v1h-2zM692 435h4v1h-4zM48 436h4v1h-4zM489 436h2v1h-2zM688 436h4v1h-4zM44 437h4v1h-4zM491 437h2v1h-2zM682 437h6v1h-6zM42 438h2v1h-2zM493 438h2v1h-2zM658 438h24v1h-24zM39 439h3v1h-3zM495 439h3v1h-3zM650 439h8v1h-8zM34 440h5v1h-5zM498 440h2v1h-2zM636 440h14v1h-14zM28 441h6v1h-6zM500 441h3v1h-3zM632 441h4v1h-4zM24 442h4v1h-4zM503 442h3v1h-3zM620 442h12v1h-12zM18 443h6v1h-6zM506 443h2v1h-2zM616 443h4v1h-4zM12 444h6v1h-6zM508 444h3v1h-3zM604 444h12v1h-12zM8 445h4v1h-4zM511 445h3v1h-3zM600 445h4v1h-4zM5 446h3v1h-3zM514 446h2v1h-2zM594 446h6v1h-6zM516 447h4v1h-4zM586 447h8v1h-8zM520 448h4v1h-4zM580 448h6v1h-6zM524 449h6v1h-6zM576 449h4v1h-4zM530 450h8v1h-8zM570 450h6v1h-6zM538 451h8v1h-8zM554 451h16v1h-16zM546 452h8v1h-8z" fill="#ff0000"/>
<text x="9" y="407" font-size="10.3" fill="#000" stroke="#000" stroke-width="0.25" textLength="154" lengthAdjust="spacingAndGlyphs">MACD(12,26,9) -0.001917 -0.001999</text>
<rect x="1168" y="414" width="2" height="1" fill="#000"/>
<rect x="1168" y="395" width="2" height="1" fill="#000"/>
<rect x="1168" y="456" width="2" height="1" fill="#000"/>
<text x="1172" y="405" font-size="10" fill="#000" stroke="#000" stroke-width="0.25" textLength="37" lengthAdjust="spacingAndGlyphs">0.002592</text>
<text x="1172" y="418" font-size="10" fill="#000" stroke="#000" stroke-width="0.25" textLength="16.5" lengthAdjust="spacingAndGlyphs">0.00</text>
<text x="1171.5" y="454" font-size="10" fill="#000" stroke="#000" stroke-width="0.25" textLength="41" lengthAdjust="spacingAndGlyphs">-0.006029</text>
</g>
<g id="rsi">
<line x1="6" y1="483.5" x2="1167" y2="483.5" stroke="#c0c0c0" stroke-width="1" stroke-dasharray="3 3"/>
<line x1="6" y1="513.5" x2="1167" y2="513.5" stroke="#c0c0c0" stroke-width="1" stroke-dasharray="3 3"/>
<path d="M226 486h4v1h-4zM218 487h8v1h-8zM230 487h1v1h-1zM748 487h4v1h-4zM210 488h8v1h-8zM230 488h1v1h-1zM253 488h3v1h-3zM716 488h6v1h-6zM744 488h4v1h-4zM752 488h4v1h-4zM204 489h6v1h-6zM231 489h1v1h-1zM251 489h2v1h-2zM256 489h4v1h-4zM701 489h5v1h-5zM712 489h4v1h-4zM722 489h6v1h-6zM740 489h4v1h-4zM756 489h3v1h-3zM200 490h4v1h-4zM232 490h1v1h-1zM249 490h2v1h-2zM260 490h2v1h-2zM330 490h5v1h-5zM356 490h26v1h-26zM699 490h2v1h-2zM706 490h6v1h-6zM728 490h4v1h-4zM736 490h4v1h-4zM759 490h3v1h-3zM76 491h10v1h-10zM196 491h4v1h-4zM233 491h1v1h-1zM247 491h2v1h-2zM262 491h1v1h-1zM324 491h6v1h-6zM335 491h3v1h-3zM354 491h2v1h-2zM382 491h1v1h-1zM698 491h1v1h-1zM732 491h4v1h-4zM762 491h2v1h-2zM53 492h2v1h-2zM72 492h4v1h-4zM86 492h1v1h-1zM192 492h4v1h-4zM233 492h1v1h-1zM245 492h2v1h-2zM263 492h1v1h-1zM320 492h4v1h-4zM338 492h2v1h-2zM351 492h3v1h-3zM383 492h1v1h-1zM696 492h2v1h-2zM764 492h6v1h-6zM51 493h2v1h-2zM55 493h3v1h-3zM68 493h4v1h-4zM87 493h1v1h-1zM189 493h3v1h-3zM234 493h1v1h-1zM243 493h2v1h-2zM264 493h1v1h-1zM316 493h4v1h-4zM340 493h11v1h-11zM384 493h1v1h-1zM694 493h2v1h-2zM770 493h5v1h-5zM50 494h1v1h-1zM58 494h2v1h-2zM64 494h4v1h-4zM88 494h2v1h-2zM187 494h2v1h-2zM235 494h1v1h-1zM242 494h1v1h-1zM265 494h1v1h-1zM314 494h2v1h-2zM385 494h1v1h-1zM692 494h2v1h-2zM775 494h3v1h-3zM48 495h2v1h-2zM60 495h4v1h-4zM90 495h1v1h-1zM186 495h1v1h-1zM236 495h1v1h-1zM240 495h2v1h-2zM266 495h1v1h-1zM311 495h3v1h-3zM386 495h1v1h-1zM690 495h2v1h-2zM778 495h2v1h-2zM46 496h2v1h-2zM91 496h1v1h-1zM184 496h2v1h-2zM236 496h1v1h-1zM238 496h2v1h-2zM267 496h1v1h-1zM276 496h4v1h-4zM308 496h3v1h-3zM387 496h1v1h-1zM687 496h3v1h-3zM780 496h2v1h-2zM44 497h2v1h-2zM92 497h1v1h-1zM182 497h2v1h-2zM237 497h1v1h-1zM268 497h1v1h-1zM272 497h4v1h-4zM280 497h4v1h-4zM304 497h4v1h-4zM388 497h1v1h-1zM684 497h3v1h-3zM782 497h1v1h-1zM42 498h2v1h-2zM93 498h5v1h-5zM178 498h4v1h-4zM269 498h3v1h-3zM284 498h2v1h-2zM301 498h3v1h-3zM389 498h2v1h-2zM682 498h2v1h-2zM783 498h1v1h-1zM39 499h3v1h-3zM98 499h6v1h-6zM170 499h8v1h-8zM286 499h2v1h-2zM299 499h2v1h-2zM391 499h3v1h-3zM679 499h3v1h-3zM784 499h2v1h-2zM898 499h5v1h-5zM34 500h5v1h-5zM104 500h4v1h-4zM165 500h5v1h-5zM288 500h2v1h-2zM298 500h1v1h-1zM394 500h2v1h-2zM677 500h2v1h-2zM786 500h1v1h-1zM892 500h6v1h-6zM903 500h2v1h-2zM29 501h5v1h-5zM108 501h3v1h-3zM164 501h1v1h-1zM290 501h1v1h-1zM296 501h2v1h-2zM396 501h3v1h-3zM676 501h1v1h-1zM787 501h1v1h-1zM888 501h4v1h-4zM905 501h2v1h-2zM5 502h2v1h-2zM27 502h2v1h-2zM111 502h2v1h-2zM163 502h1v1h-1zM291 502h2v1h-2zM294 502h2v1h-2zM399 502h3v1h-3zM621 502h2v1h-2zM675 502h1v1h-1zM788 502h1v1h-1zM820 502h2v1h-2zM885 502h3v1h-3zM907 502h2v1h-2zM7 503h3v1h-3zM25 503h2v1h-2zM113 503h2v1h-2zM162 503h1v1h-1zM293 503h1v1h-1zM402 503h2v1h-2zM588 503h3v1h-3zM619 503h2v1h-2zM623 503h3v1h-3zM675 503h1v1h-1zM789 503h2v1h-2zM818 503h2v1h-2zM822 503h2v1h-2zM884 503h1v1h-1zM909 503h5v1h-5zM10 504h2v1h-2zM23 504h2v1h-2zM115 504h2v1h-2zM161 504h1v1h-1zM404 504h2v1h-2zM586 504h2v1h-2zM591 504h3v1h-3zM618 504h1v1h-1zM626 504h2v1h-2zM674 504h1v1h-1zM791 504h3v1h-3zM815 504h3v1h-3zM824 504h2v1h-2zM844 504h6v1h-6zM883 504h1v1h-1zM914 504h3v1h-3zM12 505h11v1h-11zM117 505h1v1h-1zM161 505h1v1h-1zM406 505h2v1h-2zM549 505h5v1h-5zM562 505h8v1h-8zM583 505h3v1h-3zM594 505h2v1h-2zM616 505h2v1h-2zM628 505h6v1h-6zM673 505h1v1h-1zM794 505h2v1h-2zM812 505h3v1h-3zM826 505h1v1h-1zM840 505h4v1h-4zM850 505h6v1h-6zM883 505h1v1h-1zM118 506h2v1h-2zM160 506h1v1h-1zM408 506h2v1h-2zM548 506h1v1h-1zM554 506h8v1h-8zM570 506h13v1h-13zM596 506h4v1h-4zM614 506h2v1h-2zM634 506h6v1h-6zM672 506h1v1h-1zM796 506h6v1h-6zM808 506h4v1h-4zM827 506h2v1h-2zM834 506h6v1h-6zM856 506h4v1h-4zM882 506h1v1h-1zM120 507h2v1h-2zM159 507h1v1h-1zM410 507h1v1h-1zM533 507h2v1h-2zM546 507h2v1h-2zM600 507h4v1h-4zM610 507h4v1h-4zM640 507h4v1h-4zM671 507h1v1h-1zM802 507h6v1h-6zM829 507h5v1h-5zM860 507h3v1h-3zM881 507h1v1h-1zM122 508h1v1h-1zM158 508h1v1h-1zM411 508h2v1h-2zM532 508h1v1h-1zM535 508h2v1h-2zM545 508h1v1h-1zM604 508h6v1h-6zM644 508h20v1h-20zM671 508h1v1h-1zM863 508h2v1h-2zM880 508h1v1h-1zM123 509h2v1h-2zM148 509h10v1h-10zM413 509h18v1h-18zM445 509h2v1h-2zM501 509h5v1h-5zM530 509h2v1h-2zM537 509h2v1h-2zM544 509h1v1h-1zM664 509h4v1h-4zM670 509h1v1h-1zM865 509h2v1h-2zM879 509h1v1h-1zM125 510h13v1h-13zM144 510h4v1h-4zM431 510h2v1h-2zM443 510h2v1h-2zM447 510h3v1h-3zM500 510h1v1h-1zM506 510h13v1h-13zM529 510h1v1h-1zM539 510h2v1h-2zM542 510h2v1h-2zM668 510h2v1h-2zM867 510h2v1h-2zM879 510h1v1h-1zM138 511h6v1h-6zM433 511h2v1h-2zM441 511h2v1h-2zM450 511h2v1h-2zM499 511h1v1h-1zM519 511h3v1h-3zM528 511h1v1h-1zM541 511h1v1h-1zM869 511h5v1h-5zM878 511h1v1h-1zM435 512h2v1h-2zM439 512h2v1h-2zM452 512h3v1h-3zM499 512h1v1h-1zM522 512h2v1h-2zM526 512h2v1h-2zM874 512h4v1h-4zM437 513h2v1h-2zM455 513h2v1h-2zM498 513h1v1h-1zM524 513h2v1h-2zM457 514h2v1h-2zM497 514h1v1h-1zM459 515h2v1h-2zM496 515h1v1h-1zM461 516h5v1h-5zM495 516h1v1h-1zM466 517h8v1h-8zM495 517h1v1h-1zM474 518h16v1h-16zM494 518h1v1h-1zM490 519h4v1h-4z" fill="#1e90ff"/>
<text x="9" y="472" font-size="10.3" fill="#000" stroke="#000" stroke-width="0.25" textLength="68" lengthAdjust="spacingAndGlyphs">RSI(14) 41.6945</text>
<text x="1171.5" y="470" font-size="10" fill="#000" stroke="#000" stroke-width="0.25" textLength="14.5" lengthAdjust="spacingAndGlyphs">100</text>
<text x="1171.5" y="487" font-size="10" fill="#000" stroke="#000" stroke-width="0.25" textLength="9.5" lengthAdjust="spacingAndGlyphs">70</text>
<text x="1171.5" y="517" font-size="10" fill="#000" stroke="#000" stroke-width="0.25" textLength="9.5" lengthAdjust="spacingAndGlyphs">30</text>
<text x="1171.5" y="533" font-size="10" fill="#000" stroke="#000" stroke-width="0.25" textLength="5" lengthAdjust="spacingAndGlyphs">0</text>
<rect x="1168" y="460" width="2" height="1" fill="#000"/>
<rect x="1168" y="534" width="2" height="1" fill="#000"/>
</g>
<g id="dates">
<rect x="5" y="536" width="1" height="4" fill="#000"/>
<text x="4.5" y="549.5" font-size="10.3" fill="#000" stroke="#000" stroke-width="0.25" textLength="54.5" lengthAdjust="spacingAndGlyphs">28 May 2019</text>
<rect x="69" y="536" width="1" height="4" fill="#000"/>
<text x="68.5" y="549.5" font-size="10.3" fill="#000" stroke="#000" stroke-width="0.25" textLength="44.2" lengthAdjust="spacingAndGlyphs">6 Jun 2019</text>
<rect x="133" y="536" width="1" height="4" fill="#000"/>
<text x="132.5" y="549.5" font-size="10.3" fill="#000" stroke="#000" stroke-width="0.25" textLength="48.6" lengthAdjust="spacingAndGlyphs">15 Jun 2019</text>
<rect x="197" y="536" width="1" height="4" fill="#000"/>
<text x="196.5" y="549.5" font-size="10.3" fill="#000" stroke="#000" stroke-width="0.25" textLength="48.7" lengthAdjust="spacingAndGlyphs">25 Jun 2019</text>
<rect x="261" y="536" width="1" height="4" fill="#000"/>
<text x="260.5" y="549.5" font-size="10.3" fill="#000" stroke="#000" stroke-width="0.25" textLength="41.6" lengthAdjust="spacingAndGlyphs">4 Jul 2019</text>
<rect x="325" y="536" width="1" height="4" fill="#000"/>
<text x="324.5" y="549.5" font-size="10.3" fill="#000" stroke="#000" stroke-width="0.25" textLength="45.6" lengthAdjust="spacingAndGlyphs">13 Jul 2019</text>
<rect x="389" y="536" width="1" height="4" fill="#000"/>
<text x="388.5" y="549.5" font-size="10.3" fill="#000" stroke="#000" stroke-width="0.25" textLength="45.6" lengthAdjust="spacingAndGlyphs">23 Jul 2019</text>
<rect x="453" y="536" width="1" height="4" fill="#000"/>
<text x="452.5" y="549.5" font-size="10.3" fill="#000" stroke="#000" stroke-width="0.25" textLength="46.6" lengthAdjust="spacingAndGlyphs">1 Aug 2019</text>
<rect x="517" y="536" width="1" height="4" fill="#000"/>
<text x="516.5" y="549.5" font-size="10.3" fill="#000" stroke="#000" stroke-width="0.25" textLength="52" lengthAdjust="spacingAndGlyphs">10 Aug 2019</text>
<rect x="581" y="536" width="1" height="4" fill="#000"/>
<text x="580.5" y="549.5" font-size="10.3" fill="#000" stroke="#000" stroke-width="0.25" textLength="52" lengthAdjust="spacingAndGlyphs">20 Aug 2019</text>
<rect x="645" y="536" width="1" height="4" fill="#000"/>
<text x="644.5" y="549.5" font-size="10.3" fill="#000" stroke="#000" stroke-width="0.25" textLength="52" lengthAdjust="spacingAndGlyphs">29 Aug 2019</text>
<rect x="709" y="536" width="1" height="4" fill="#000"/>
<text x="708.5" y="549.5" font-size="10.3" fill="#000" stroke="#000" stroke-width="0.25" textLength="46.5" lengthAdjust="spacingAndGlyphs">7 Sep 2019</text>
<rect x="773" y="536" width="1" height="4" fill="#000"/>
<text x="772.5" y="549.5" font-size="10.3" fill="#000" stroke="#000" stroke-width="0.25" textLength="51.5" lengthAdjust="spacingAndGlyphs">17 Sep 2019</text>
<rect x="837" y="536" width="1" height="4" fill="#000"/>
<text x="836.5" y="549.5" font-size="10.3" fill="#000" stroke="#000" stroke-width="0.25" textLength="51.5" lengthAdjust="spacingAndGlyphs">26 Sep 2019</text>
<rect x="901" y="536" width="1" height="4" fill="#000"/>
<text x="900.5" y="549.5" font-size="10.3" fill="#000" stroke="#000" stroke-width="0.25" textLength="45" lengthAdjust="spacingAndGlyphs">5 Oct 2019</text>
</g>
<g id="tabs">
<rect x="0" y="557" width="1211" height="1" fill="#e6e6e6"/>
<rect x="0" y="559" width="1211" height="1" fill="#000"/>
<rect x="0" y="560" width="1211" height="20" fill="#f0f0f0"/>
<rect x="0" y="580" width="1211" height="2" fill="#fafafa"/>
<rect x="0" y="582" width="1211" height="1" fill="#bcbcbc"/>
<rect x="0" y="583" width="1211" height="1" fill="#8c8c8c"/>
<rect x="0" y="560" width="1" height="19" fill="#a0a0a0"/>
<rect x="1" y="560" width="1" height="18" fill="#696969"/>
<rect x="111" y="559" width="102" height="18" fill="#fff"/>
<rect x="110" y="559" width="1" height="19" fill="#000"/>
<rect x="213" y="559" width="1" height="19" fill="#000"/>
<rect x="110" y="577" width="104" height="1" fill="#000"/>
<text x="18" y="574" font-size="12.5" fill="#5c5c5c" textLength="80" lengthAdjust="spacingAndGlyphs">EURUSD,Daily</text>
<text x="121.5" y="574" font-size="12.5" fill="#000" textLength="81.5" lengthAdjust="spacingAndGlyphs">AUDUSD,Daily</text>
<text x="224" y="574" font-size="12.5" fill="#5c5c5c" textLength="79" lengthAdjust="spacingAndGlyphs">USDCHF,Daily</text>
<text x="325" y="574" font-size="12.5" fill="#5c5c5c" textLength="81" lengthAdjust="spacingAndGlyphs">USDCAD,Daily</text>
<text x="428" y="574" font-size="12.5" fill="#5c5c5c" textLength="83" lengthAdjust="spacingAndGlyphs">USDCNH,Daily</text>
<text x="533" y="574" font-size="12.5" fill="#5c5c5c" textLength="69" lengthAdjust="spacingAndGlyphs">XAUUSD,H4</text>
<text x="624" y="574" font-size="12.5" fill="#5c5c5c" textLength="47" lengthAdjust="spacingAndGlyphs">DJ30,H4</text>
<text x="694.5" y="574" font-size="12.5" fill="#5c5c5c" textLength="59.2" lengthAdjust="spacingAndGlyphs">USDOil,H1</text>
<text x="776.8" y="574" font-size="12.5" fill="#5c5c5c" textLength="65.9" lengthAdjust="spacingAndGlyphs">USDCHF,H1</text>
<text x="866" y="574" font-size="12.5" fill="#5c5c5c" textLength="68" lengthAdjust="spacingAndGlyphs">GBPUSD,H1</text>
<text x="958" y="574" font-size="12.5" fill="#5c5c5c" textLength="67.5" lengthAdjust="spacingAndGlyphs">EURUSD,H1</text>
<text x="1049.4" y="574" font-size="12.5" fill="#5c5c5c" textLength="68.1" lengthAdjust="spacingAndGlyphs">GBPAUD,H1</text>
<clipPath id="ct"><rect x="1130" y="560" width="47.6" height="19"/></clipPath>
<text x="1140.6" y="574" font-size="12.5" fill="#5c5c5c" textLength="35.8" lengthAdjust="spacingAndGlyphs">USDJP</text>
<rect x="314" y="563" width="1" height="13" fill="#6e6e6e"/>
<rect x="418" y="563" width="1" height="13" fill="#6e6e6e"/>
<rect x="522" y="563" width="1" height="13" fill="#6e6e6e"/>
<rect x="614" y="563" width="1" height="13" fill="#6e6e6e"/>
<rect x="682" y="563" width="1" height="13" fill="#6e6e6e"/>
<rect x="766" y="563" width="1" height="13" fill="#6e6e6e"/>
<rect x="855" y="563" width="1" height="13" fill="#6e6e6e"/>
<rect x="946" y="563" width="1" height="13" fill="#6e6e6e"/>
<rect x="1038" y="563" width="1" height="13" fill="#6e6e6e"/>
<rect x="1130" y="563" width="1" height="13" fill="#6e6e6e"/>
<path d="M1186 564.5 L1186 571.5 L1182.5 568 Z" fill="#a0a0a0" shape-rendering="auto"/>
<path d="M1201.5 564 L1201.5 572 L1205.5 568 Z" fill="#000" shape-rendering="auto"/>
</g>
</svg></body></html>
